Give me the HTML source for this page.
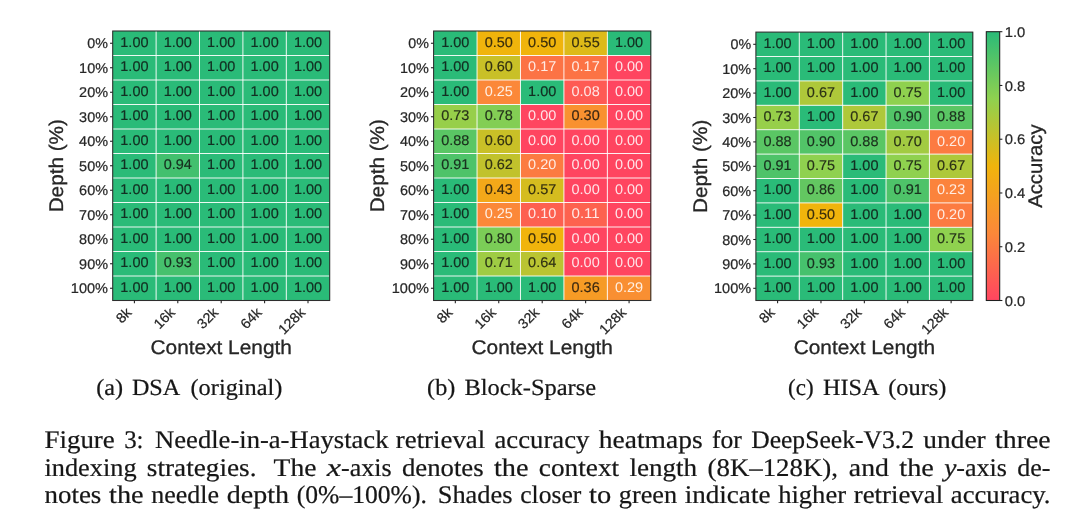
<!DOCTYPE html>
<html><head><meta charset="utf-8"><title>Figure 3</title>
<style>
html,body{margin:0;padding:0;background:#fff;}
body{width:1080px;height:525px;overflow:hidden;font-family:"Liberation Sans",sans-serif;}
svg{display:block;font-family:"Liberation Sans",sans-serif;will-change:transform;opacity:0.999;}
</style></head><body>
<svg width="1080" height="525" viewBox="0 0 1080 525" text-rendering="geometricPrecision">
<defs><linearGradient id="cb" x1="0" y1="0" x2="0" y2="1"><stop offset="0%" stop-color="#2abb78"/><stop offset="25%" stop-color="#8fd14f"/><stop offset="50%" stop-color="#f0b40c"/><stop offset="75%" stop-color="#fb8839"/><stop offset="100%" stop-color="#ff4560"/></linearGradient></defs>
<g shape-rendering="auto">
<rect x="112.70" y="31.00" width="43.70" height="24.80" fill="#2abb78"/>
<rect x="156.10" y="31.00" width="43.70" height="24.80" fill="#2abb78"/>
<rect x="199.50" y="31.00" width="43.70" height="24.80" fill="#2abb78"/>
<rect x="242.90" y="31.00" width="43.70" height="24.80" fill="#2abb78"/>
<rect x="286.30" y="31.00" width="43.70" height="24.80" fill="#2abb78"/>
<rect x="112.70" y="55.50" width="43.70" height="24.80" fill="#2abb78"/>
<rect x="156.10" y="55.50" width="43.70" height="24.80" fill="#2abb78"/>
<rect x="199.50" y="55.50" width="43.70" height="24.80" fill="#2abb78"/>
<rect x="242.90" y="55.50" width="43.70" height="24.80" fill="#2abb78"/>
<rect x="286.30" y="55.50" width="43.70" height="24.80" fill="#2abb78"/>
<rect x="112.70" y="80.00" width="43.70" height="24.80" fill="#2abb78"/>
<rect x="156.10" y="80.00" width="43.70" height="24.80" fill="#2abb78"/>
<rect x="199.50" y="80.00" width="43.70" height="24.80" fill="#2abb78"/>
<rect x="242.90" y="80.00" width="43.70" height="24.80" fill="#2abb78"/>
<rect x="286.30" y="80.00" width="43.70" height="24.80" fill="#2abb78"/>
<rect x="112.70" y="104.50" width="43.70" height="24.80" fill="#2abb78"/>
<rect x="156.10" y="104.50" width="43.70" height="24.80" fill="#2abb78"/>
<rect x="199.50" y="104.50" width="43.70" height="24.80" fill="#2abb78"/>
<rect x="242.90" y="104.50" width="43.70" height="24.80" fill="#2abb78"/>
<rect x="286.30" y="104.50" width="43.70" height="24.80" fill="#2abb78"/>
<rect x="112.70" y="129.00" width="43.70" height="24.80" fill="#2abb78"/>
<rect x="156.10" y="129.00" width="43.70" height="24.80" fill="#2abb78"/>
<rect x="199.50" y="129.00" width="43.70" height="24.80" fill="#2abb78"/>
<rect x="242.90" y="129.00" width="43.70" height="24.80" fill="#2abb78"/>
<rect x="286.30" y="129.00" width="43.70" height="24.80" fill="#2abb78"/>
<rect x="112.70" y="153.50" width="43.70" height="24.80" fill="#2abb78"/>
<rect x="156.10" y="153.50" width="43.70" height="24.80" fill="#42c06e"/>
<rect x="199.50" y="153.50" width="43.70" height="24.80" fill="#2abb78"/>
<rect x="242.90" y="153.50" width="43.70" height="24.80" fill="#2abb78"/>
<rect x="286.30" y="153.50" width="43.70" height="24.80" fill="#2abb78"/>
<rect x="112.70" y="178.00" width="43.70" height="24.80" fill="#2abb78"/>
<rect x="156.10" y="178.00" width="43.70" height="24.80" fill="#2abb78"/>
<rect x="199.50" y="178.00" width="43.70" height="24.80" fill="#2abb78"/>
<rect x="242.90" y="178.00" width="43.70" height="24.80" fill="#2abb78"/>
<rect x="286.30" y="178.00" width="43.70" height="24.80" fill="#2abb78"/>
<rect x="112.70" y="202.50" width="43.70" height="24.80" fill="#2abb78"/>
<rect x="156.10" y="202.50" width="43.70" height="24.80" fill="#2abb78"/>
<rect x="199.50" y="202.50" width="43.70" height="24.80" fill="#2abb78"/>
<rect x="242.90" y="202.50" width="43.70" height="24.80" fill="#2abb78"/>
<rect x="286.30" y="202.50" width="43.70" height="24.80" fill="#2abb78"/>
<rect x="112.70" y="227.00" width="43.70" height="24.80" fill="#2abb78"/>
<rect x="156.10" y="227.00" width="43.70" height="24.80" fill="#2abb78"/>
<rect x="199.50" y="227.00" width="43.70" height="24.80" fill="#2abb78"/>
<rect x="242.90" y="227.00" width="43.70" height="24.80" fill="#2abb78"/>
<rect x="286.30" y="227.00" width="43.70" height="24.80" fill="#2abb78"/>
<rect x="112.70" y="251.50" width="43.70" height="24.80" fill="#2abb78"/>
<rect x="156.10" y="251.50" width="43.70" height="24.80" fill="#46c16d"/>
<rect x="199.50" y="251.50" width="43.70" height="24.80" fill="#2abb78"/>
<rect x="242.90" y="251.50" width="43.70" height="24.80" fill="#2abb78"/>
<rect x="286.30" y="251.50" width="43.70" height="24.80" fill="#2abb78"/>
<rect x="112.70" y="276.00" width="43.70" height="24.80" fill="#2abb78"/>
<rect x="156.10" y="276.00" width="43.70" height="24.80" fill="#2abb78"/>
<rect x="199.50" y="276.00" width="43.70" height="24.80" fill="#2abb78"/>
<rect x="242.90" y="276.00" width="43.70" height="24.80" fill="#2abb78"/>
<rect x="286.30" y="276.00" width="43.70" height="24.80" fill="#2abb78"/>
<line x1="156.10" y1="31.0" x2="156.10" y2="300.5" stroke="#fff" stroke-opacity="0.9" stroke-width="1.0"/>
<line x1="199.50" y1="31.0" x2="199.50" y2="300.5" stroke="#fff" stroke-opacity="0.9" stroke-width="1.0"/>
<line x1="242.90" y1="31.0" x2="242.90" y2="300.5" stroke="#fff" stroke-opacity="0.9" stroke-width="1.0"/>
<line x1="286.30" y1="31.0" x2="286.30" y2="300.5" stroke="#fff" stroke-opacity="0.9" stroke-width="1.0"/>
<line x1="112.7" y1="55.50" x2="329.7" y2="55.50" stroke="#fff" stroke-opacity="0.9" stroke-width="1.0"/>
<line x1="112.7" y1="80.00" x2="329.7" y2="80.00" stroke="#fff" stroke-opacity="0.9" stroke-width="1.0"/>
<line x1="112.7" y1="104.50" x2="329.7" y2="104.50" stroke="#fff" stroke-opacity="0.9" stroke-width="1.0"/>
<line x1="112.7" y1="129.00" x2="329.7" y2="129.00" stroke="#fff" stroke-opacity="0.9" stroke-width="1.0"/>
<line x1="112.7" y1="153.50" x2="329.7" y2="153.50" stroke="#fff" stroke-opacity="0.9" stroke-width="1.0"/>
<line x1="112.7" y1="178.00" x2="329.7" y2="178.00" stroke="#fff" stroke-opacity="0.9" stroke-width="1.0"/>
<line x1="112.7" y1="202.50" x2="329.7" y2="202.50" stroke="#fff" stroke-opacity="0.9" stroke-width="1.0"/>
<line x1="112.7" y1="227.00" x2="329.7" y2="227.00" stroke="#fff" stroke-opacity="0.9" stroke-width="1.0"/>
<line x1="112.7" y1="251.50" x2="329.7" y2="251.50" stroke="#fff" stroke-opacity="0.9" stroke-width="1.0"/>
<line x1="112.7" y1="276.00" x2="329.7" y2="276.00" stroke="#fff" stroke-opacity="0.9" stroke-width="1.0"/>
<text x="134.40" y="46.95" font-size="14.13" fill="#0c0c0c" text-anchor="middle" textLength="28.20" lengthAdjust="spacingAndGlyphs" fill-opacity="0.8" stroke-opacity="0.8" stroke="#0c0c0c" stroke-width="0.16">1.00</text>
<text x="177.80" y="46.95" font-size="14.13" fill="#0c0c0c" text-anchor="middle" textLength="28.20" lengthAdjust="spacingAndGlyphs" fill-opacity="0.8" stroke-opacity="0.8" stroke="#0c0c0c" stroke-width="0.16">1.00</text>
<text x="221.20" y="46.95" font-size="14.13" fill="#0c0c0c" text-anchor="middle" textLength="28.20" lengthAdjust="spacingAndGlyphs" fill-opacity="0.8" stroke-opacity="0.8" stroke="#0c0c0c" stroke-width="0.16">1.00</text>
<text x="264.60" y="46.95" font-size="14.13" fill="#0c0c0c" text-anchor="middle" textLength="28.20" lengthAdjust="spacingAndGlyphs" fill-opacity="0.8" stroke-opacity="0.8" stroke="#0c0c0c" stroke-width="0.16">1.00</text>
<text x="308.00" y="46.95" font-size="14.13" fill="#0c0c0c" text-anchor="middle" textLength="28.20" lengthAdjust="spacingAndGlyphs" fill-opacity="0.8" stroke-opacity="0.8" stroke="#0c0c0c" stroke-width="0.16">1.00</text>
<text x="134.40" y="71.45" font-size="14.13" fill="#0c0c0c" text-anchor="middle" textLength="28.20" lengthAdjust="spacingAndGlyphs" fill-opacity="0.8" stroke-opacity="0.8" stroke="#0c0c0c" stroke-width="0.16">1.00</text>
<text x="177.80" y="71.45" font-size="14.13" fill="#0c0c0c" text-anchor="middle" textLength="28.20" lengthAdjust="spacingAndGlyphs" fill-opacity="0.8" stroke-opacity="0.8" stroke="#0c0c0c" stroke-width="0.16">1.00</text>
<text x="221.20" y="71.45" font-size="14.13" fill="#0c0c0c" text-anchor="middle" textLength="28.20" lengthAdjust="spacingAndGlyphs" fill-opacity="0.8" stroke-opacity="0.8" stroke="#0c0c0c" stroke-width="0.16">1.00</text>
<text x="264.60" y="71.45" font-size="14.13" fill="#0c0c0c" text-anchor="middle" textLength="28.20" lengthAdjust="spacingAndGlyphs" fill-opacity="0.8" stroke-opacity="0.8" stroke="#0c0c0c" stroke-width="0.16">1.00</text>
<text x="308.00" y="71.45" font-size="14.13" fill="#0c0c0c" text-anchor="middle" textLength="28.20" lengthAdjust="spacingAndGlyphs" fill-opacity="0.8" stroke-opacity="0.8" stroke="#0c0c0c" stroke-width="0.16">1.00</text>
<text x="134.40" y="95.95" font-size="14.13" fill="#0c0c0c" text-anchor="middle" textLength="28.20" lengthAdjust="spacingAndGlyphs" fill-opacity="0.8" stroke-opacity="0.8" stroke="#0c0c0c" stroke-width="0.16">1.00</text>
<text x="177.80" y="95.95" font-size="14.13" fill="#0c0c0c" text-anchor="middle" textLength="28.20" lengthAdjust="spacingAndGlyphs" fill-opacity="0.8" stroke-opacity="0.8" stroke="#0c0c0c" stroke-width="0.16">1.00</text>
<text x="221.20" y="95.95" font-size="14.13" fill="#0c0c0c" text-anchor="middle" textLength="28.20" lengthAdjust="spacingAndGlyphs" fill-opacity="0.8" stroke-opacity="0.8" stroke="#0c0c0c" stroke-width="0.16">1.00</text>
<text x="264.60" y="95.95" font-size="14.13" fill="#0c0c0c" text-anchor="middle" textLength="28.20" lengthAdjust="spacingAndGlyphs" fill-opacity="0.8" stroke-opacity="0.8" stroke="#0c0c0c" stroke-width="0.16">1.00</text>
<text x="308.00" y="95.95" font-size="14.13" fill="#0c0c0c" text-anchor="middle" textLength="28.20" lengthAdjust="spacingAndGlyphs" fill-opacity="0.8" stroke-opacity="0.8" stroke="#0c0c0c" stroke-width="0.16">1.00</text>
<text x="134.40" y="120.45" font-size="14.13" fill="#0c0c0c" text-anchor="middle" textLength="28.20" lengthAdjust="spacingAndGlyphs" fill-opacity="0.8" stroke-opacity="0.8" stroke="#0c0c0c" stroke-width="0.16">1.00</text>
<text x="177.80" y="120.45" font-size="14.13" fill="#0c0c0c" text-anchor="middle" textLength="28.20" lengthAdjust="spacingAndGlyphs" fill-opacity="0.8" stroke-opacity="0.8" stroke="#0c0c0c" stroke-width="0.16">1.00</text>
<text x="221.20" y="120.45" font-size="14.13" fill="#0c0c0c" text-anchor="middle" textLength="28.20" lengthAdjust="spacingAndGlyphs" fill-opacity="0.8" stroke-opacity="0.8" stroke="#0c0c0c" stroke-width="0.16">1.00</text>
<text x="264.60" y="120.45" font-size="14.13" fill="#0c0c0c" text-anchor="middle" textLength="28.20" lengthAdjust="spacingAndGlyphs" fill-opacity="0.8" stroke-opacity="0.8" stroke="#0c0c0c" stroke-width="0.16">1.00</text>
<text x="308.00" y="120.45" font-size="14.13" fill="#0c0c0c" text-anchor="middle" textLength="28.20" lengthAdjust="spacingAndGlyphs" fill-opacity="0.8" stroke-opacity="0.8" stroke="#0c0c0c" stroke-width="0.16">1.00</text>
<text x="134.40" y="144.95" font-size="14.13" fill="#0c0c0c" text-anchor="middle" textLength="28.20" lengthAdjust="spacingAndGlyphs" fill-opacity="0.8" stroke-opacity="0.8" stroke="#0c0c0c" stroke-width="0.16">1.00</text>
<text x="177.80" y="144.95" font-size="14.13" fill="#0c0c0c" text-anchor="middle" textLength="28.20" lengthAdjust="spacingAndGlyphs" fill-opacity="0.8" stroke-opacity="0.8" stroke="#0c0c0c" stroke-width="0.16">1.00</text>
<text x="221.20" y="144.95" font-size="14.13" fill="#0c0c0c" text-anchor="middle" textLength="28.20" lengthAdjust="spacingAndGlyphs" fill-opacity="0.8" stroke-opacity="0.8" stroke="#0c0c0c" stroke-width="0.16">1.00</text>
<text x="264.60" y="144.95" font-size="14.13" fill="#0c0c0c" text-anchor="middle" textLength="28.20" lengthAdjust="spacingAndGlyphs" fill-opacity="0.8" stroke-opacity="0.8" stroke="#0c0c0c" stroke-width="0.16">1.00</text>
<text x="308.00" y="144.95" font-size="14.13" fill="#0c0c0c" text-anchor="middle" textLength="28.20" lengthAdjust="spacingAndGlyphs" fill-opacity="0.8" stroke-opacity="0.8" stroke="#0c0c0c" stroke-width="0.16">1.00</text>
<text x="134.40" y="169.45" font-size="14.13" fill="#0c0c0c" text-anchor="middle" textLength="28.20" lengthAdjust="spacingAndGlyphs" fill-opacity="0.8" stroke-opacity="0.8" stroke="#0c0c0c" stroke-width="0.16">1.00</text>
<text x="177.80" y="169.45" font-size="14.13" fill="#0c0c0c" text-anchor="middle" textLength="28.20" lengthAdjust="spacingAndGlyphs" fill-opacity="0.8" stroke-opacity="0.8" stroke="#0c0c0c" stroke-width="0.16">0.94</text>
<text x="221.20" y="169.45" font-size="14.13" fill="#0c0c0c" text-anchor="middle" textLength="28.20" lengthAdjust="spacingAndGlyphs" fill-opacity="0.8" stroke-opacity="0.8" stroke="#0c0c0c" stroke-width="0.16">1.00</text>
<text x="264.60" y="169.45" font-size="14.13" fill="#0c0c0c" text-anchor="middle" textLength="28.20" lengthAdjust="spacingAndGlyphs" fill-opacity="0.8" stroke-opacity="0.8" stroke="#0c0c0c" stroke-width="0.16">1.00</text>
<text x="308.00" y="169.45" font-size="14.13" fill="#0c0c0c" text-anchor="middle" textLength="28.20" lengthAdjust="spacingAndGlyphs" fill-opacity="0.8" stroke-opacity="0.8" stroke="#0c0c0c" stroke-width="0.16">1.00</text>
<text x="134.40" y="193.95" font-size="14.13" fill="#0c0c0c" text-anchor="middle" textLength="28.20" lengthAdjust="spacingAndGlyphs" fill-opacity="0.8" stroke-opacity="0.8" stroke="#0c0c0c" stroke-width="0.16">1.00</text>
<text x="177.80" y="193.95" font-size="14.13" fill="#0c0c0c" text-anchor="middle" textLength="28.20" lengthAdjust="spacingAndGlyphs" fill-opacity="0.8" stroke-opacity="0.8" stroke="#0c0c0c" stroke-width="0.16">1.00</text>
<text x="221.20" y="193.95" font-size="14.13" fill="#0c0c0c" text-anchor="middle" textLength="28.20" lengthAdjust="spacingAndGlyphs" fill-opacity="0.8" stroke-opacity="0.8" stroke="#0c0c0c" stroke-width="0.16">1.00</text>
<text x="264.60" y="193.95" font-size="14.13" fill="#0c0c0c" text-anchor="middle" textLength="28.20" lengthAdjust="spacingAndGlyphs" fill-opacity="0.8" stroke-opacity="0.8" stroke="#0c0c0c" stroke-width="0.16">1.00</text>
<text x="308.00" y="193.95" font-size="14.13" fill="#0c0c0c" text-anchor="middle" textLength="28.20" lengthAdjust="spacingAndGlyphs" fill-opacity="0.8" stroke-opacity="0.8" stroke="#0c0c0c" stroke-width="0.16">1.00</text>
<text x="134.40" y="218.45" font-size="14.13" fill="#0c0c0c" text-anchor="middle" textLength="28.20" lengthAdjust="spacingAndGlyphs" fill-opacity="0.8" stroke-opacity="0.8" stroke="#0c0c0c" stroke-width="0.16">1.00</text>
<text x="177.80" y="218.45" font-size="14.13" fill="#0c0c0c" text-anchor="middle" textLength="28.20" lengthAdjust="spacingAndGlyphs" fill-opacity="0.8" stroke-opacity="0.8" stroke="#0c0c0c" stroke-width="0.16">1.00</text>
<text x="221.20" y="218.45" font-size="14.13" fill="#0c0c0c" text-anchor="middle" textLength="28.20" lengthAdjust="spacingAndGlyphs" fill-opacity="0.8" stroke-opacity="0.8" stroke="#0c0c0c" stroke-width="0.16">1.00</text>
<text x="264.60" y="218.45" font-size="14.13" fill="#0c0c0c" text-anchor="middle" textLength="28.20" lengthAdjust="spacingAndGlyphs" fill-opacity="0.8" stroke-opacity="0.8" stroke="#0c0c0c" stroke-width="0.16">1.00</text>
<text x="308.00" y="218.45" font-size="14.13" fill="#0c0c0c" text-anchor="middle" textLength="28.20" lengthAdjust="spacingAndGlyphs" fill-opacity="0.8" stroke-opacity="0.8" stroke="#0c0c0c" stroke-width="0.16">1.00</text>
<text x="134.40" y="242.95" font-size="14.13" fill="#0c0c0c" text-anchor="middle" textLength="28.20" lengthAdjust="spacingAndGlyphs" fill-opacity="0.8" stroke-opacity="0.8" stroke="#0c0c0c" stroke-width="0.16">1.00</text>
<text x="177.80" y="242.95" font-size="14.13" fill="#0c0c0c" text-anchor="middle" textLength="28.20" lengthAdjust="spacingAndGlyphs" fill-opacity="0.8" stroke-opacity="0.8" stroke="#0c0c0c" stroke-width="0.16">1.00</text>
<text x="221.20" y="242.95" font-size="14.13" fill="#0c0c0c" text-anchor="middle" textLength="28.20" lengthAdjust="spacingAndGlyphs" fill-opacity="0.8" stroke-opacity="0.8" stroke="#0c0c0c" stroke-width="0.16">1.00</text>
<text x="264.60" y="242.95" font-size="14.13" fill="#0c0c0c" text-anchor="middle" textLength="28.20" lengthAdjust="spacingAndGlyphs" fill-opacity="0.8" stroke-opacity="0.8" stroke="#0c0c0c" stroke-width="0.16">1.00</text>
<text x="308.00" y="242.95" font-size="14.13" fill="#0c0c0c" text-anchor="middle" textLength="28.20" lengthAdjust="spacingAndGlyphs" fill-opacity="0.8" stroke-opacity="0.8" stroke="#0c0c0c" stroke-width="0.16">1.00</text>
<text x="134.40" y="267.45" font-size="14.13" fill="#0c0c0c" text-anchor="middle" textLength="28.20" lengthAdjust="spacingAndGlyphs" fill-opacity="0.8" stroke-opacity="0.8" stroke="#0c0c0c" stroke-width="0.16">1.00</text>
<text x="177.80" y="267.45" font-size="14.13" fill="#0c0c0c" text-anchor="middle" textLength="28.20" lengthAdjust="spacingAndGlyphs" fill-opacity="0.8" stroke-opacity="0.8" stroke="#0c0c0c" stroke-width="0.16">0.93</text>
<text x="221.20" y="267.45" font-size="14.13" fill="#0c0c0c" text-anchor="middle" textLength="28.20" lengthAdjust="spacingAndGlyphs" fill-opacity="0.8" stroke-opacity="0.8" stroke="#0c0c0c" stroke-width="0.16">1.00</text>
<text x="264.60" y="267.45" font-size="14.13" fill="#0c0c0c" text-anchor="middle" textLength="28.20" lengthAdjust="spacingAndGlyphs" fill-opacity="0.8" stroke-opacity="0.8" stroke="#0c0c0c" stroke-width="0.16">1.00</text>
<text x="308.00" y="267.45" font-size="14.13" fill="#0c0c0c" text-anchor="middle" textLength="28.20" lengthAdjust="spacingAndGlyphs" fill-opacity="0.8" stroke-opacity="0.8" stroke="#0c0c0c" stroke-width="0.16">1.00</text>
<text x="134.40" y="291.95" font-size="14.13" fill="#0c0c0c" text-anchor="middle" textLength="28.20" lengthAdjust="spacingAndGlyphs" fill-opacity="0.8" stroke-opacity="0.8" stroke="#0c0c0c" stroke-width="0.16">1.00</text>
<text x="177.80" y="291.95" font-size="14.13" fill="#0c0c0c" text-anchor="middle" textLength="28.20" lengthAdjust="spacingAndGlyphs" fill-opacity="0.8" stroke-opacity="0.8" stroke="#0c0c0c" stroke-width="0.16">1.00</text>
<text x="221.20" y="291.95" font-size="14.13" fill="#0c0c0c" text-anchor="middle" textLength="28.20" lengthAdjust="spacingAndGlyphs" fill-opacity="0.8" stroke-opacity="0.8" stroke="#0c0c0c" stroke-width="0.16">1.00</text>
<text x="264.60" y="291.95" font-size="14.13" fill="#0c0c0c" text-anchor="middle" textLength="28.20" lengthAdjust="spacingAndGlyphs" fill-opacity="0.8" stroke-opacity="0.8" stroke="#0c0c0c" stroke-width="0.16">1.00</text>
<text x="308.00" y="291.95" font-size="14.13" fill="#0c0c0c" text-anchor="middle" textLength="28.20" lengthAdjust="spacingAndGlyphs" fill-opacity="0.8" stroke-opacity="0.8" stroke="#0c0c0c" stroke-width="0.16">1.00</text>
<rect x="112.7" y="31.0" width="217.0" height="269.5" fill="none" stroke="#2e2e2e" stroke-width="1.07"/>
<line x1="110.03" y1="43.25" x2="112.70" y2="43.25" stroke="#1f1f1f" stroke-width="1.07"/>
<text x="108.00" y="48.35" font-size="14.13" fill="#262626" text-anchor="end" textLength="20.62" lengthAdjust="spacingAndGlyphs"  stroke="#262626" stroke-width="0.22">0%</text>
<line x1="110.03" y1="67.75" x2="112.70" y2="67.75" stroke="#1f1f1f" stroke-width="1.07"/>
<text x="108.00" y="72.85" font-size="14.13" fill="#262626" text-anchor="end" textLength="28.89" lengthAdjust="spacingAndGlyphs"  stroke="#262626" stroke-width="0.22">10%</text>
<line x1="110.03" y1="92.25" x2="112.70" y2="92.25" stroke="#1f1f1f" stroke-width="1.07"/>
<text x="108.00" y="97.35" font-size="14.13" fill="#262626" text-anchor="end" textLength="28.89" lengthAdjust="spacingAndGlyphs"  stroke="#262626" stroke-width="0.22">20%</text>
<line x1="110.03" y1="116.75" x2="112.70" y2="116.75" stroke="#1f1f1f" stroke-width="1.07"/>
<text x="108.00" y="121.85" font-size="14.13" fill="#262626" text-anchor="end" textLength="28.89" lengthAdjust="spacingAndGlyphs"  stroke="#262626" stroke-width="0.22">30%</text>
<line x1="110.03" y1="141.25" x2="112.70" y2="141.25" stroke="#1f1f1f" stroke-width="1.07"/>
<text x="108.00" y="146.35" font-size="14.13" fill="#262626" text-anchor="end" textLength="28.89" lengthAdjust="spacingAndGlyphs"  stroke="#262626" stroke-width="0.22">40%</text>
<line x1="110.03" y1="165.75" x2="112.70" y2="165.75" stroke="#1f1f1f" stroke-width="1.07"/>
<text x="108.00" y="170.85" font-size="14.13" fill="#262626" text-anchor="end" textLength="28.89" lengthAdjust="spacingAndGlyphs"  stroke="#262626" stroke-width="0.22">50%</text>
<line x1="110.03" y1="190.25" x2="112.70" y2="190.25" stroke="#1f1f1f" stroke-width="1.07"/>
<text x="108.00" y="195.35" font-size="14.13" fill="#262626" text-anchor="end" textLength="28.89" lengthAdjust="spacingAndGlyphs"  stroke="#262626" stroke-width="0.22">60%</text>
<line x1="110.03" y1="214.75" x2="112.70" y2="214.75" stroke="#1f1f1f" stroke-width="1.07"/>
<text x="108.00" y="219.85" font-size="14.13" fill="#262626" text-anchor="end" textLength="28.89" lengthAdjust="spacingAndGlyphs"  stroke="#262626" stroke-width="0.22">70%</text>
<line x1="110.03" y1="239.25" x2="112.70" y2="239.25" stroke="#1f1f1f" stroke-width="1.07"/>
<text x="108.00" y="244.35" font-size="14.13" fill="#262626" text-anchor="end" textLength="28.89" lengthAdjust="spacingAndGlyphs"  stroke="#262626" stroke-width="0.22">80%</text>
<line x1="110.03" y1="263.75" x2="112.70" y2="263.75" stroke="#1f1f1f" stroke-width="1.07"/>
<text x="108.00" y="268.85" font-size="14.13" fill="#262626" text-anchor="end" textLength="28.89" lengthAdjust="spacingAndGlyphs"  stroke="#262626" stroke-width="0.22">90%</text>
<line x1="110.03" y1="288.25" x2="112.70" y2="288.25" stroke="#1f1f1f" stroke-width="1.07"/>
<text x="108.00" y="293.35" font-size="14.13" fill="#262626" text-anchor="end" textLength="37.16" lengthAdjust="spacingAndGlyphs"  stroke="#262626" stroke-width="0.22">100%</text>
<line x1="134.40" y1="300.50" x2="134.40" y2="303.17" stroke="#1f1f1f" stroke-width="1.07"/>
<text transform="translate(132.40,313.30) rotate(-45)" font-size="14.13" fill="#262626" stroke="#262626" stroke-width="0.22" text-anchor="end" textLength="15.23" lengthAdjust="spacingAndGlyphs">8k</text>
<line x1="177.80" y1="300.50" x2="177.80" y2="303.17" stroke="#1f1f1f" stroke-width="1.07"/>
<text transform="translate(175.80,313.30) rotate(-45)" font-size="14.13" fill="#262626" stroke="#262626" stroke-width="0.22" text-anchor="end" textLength="23.20" lengthAdjust="spacingAndGlyphs">16k</text>
<line x1="221.20" y1="300.50" x2="221.20" y2="303.17" stroke="#1f1f1f" stroke-width="1.07"/>
<text transform="translate(219.20,313.30) rotate(-45)" font-size="14.13" fill="#262626" stroke="#262626" stroke-width="0.22" text-anchor="end" textLength="23.20" lengthAdjust="spacingAndGlyphs">32k</text>
<line x1="264.60" y1="300.50" x2="264.60" y2="303.17" stroke="#1f1f1f" stroke-width="1.07"/>
<text transform="translate(262.60,313.30) rotate(-45)" font-size="14.13" fill="#262626" stroke="#262626" stroke-width="0.22" text-anchor="end" textLength="23.20" lengthAdjust="spacingAndGlyphs">64k</text>
<line x1="308.00" y1="300.50" x2="308.00" y2="303.17" stroke="#1f1f1f" stroke-width="1.07"/>
<text transform="translate(306.00,313.30) rotate(-45)" font-size="14.13" fill="#262626" stroke="#262626" stroke-width="0.22" text-anchor="end" textLength="31.17" lengthAdjust="spacingAndGlyphs">128k</text>
<text x="221.20" y="354.00" font-size="19.79" fill="#262626" text-anchor="middle" textLength="141.32" lengthAdjust="spacingAndGlyphs"  stroke="#262626" stroke-width="0.3">Context Length</text>
<text transform="translate(63.40,165.75) rotate(-90)" font-size="19.79" fill="#262626" stroke="#262626" stroke-width="0.3" text-anchor="middle" textLength="93.21" lengthAdjust="spacingAndGlyphs">Depth (%)</text>
</g>
<g shape-rendering="auto">
<rect x="433.60" y="31.00" width="43.74" height="24.80" fill="#2abb78"/>
<rect x="477.04" y="31.00" width="43.74" height="24.80" fill="#f0b40c"/>
<rect x="520.48" y="31.00" width="43.74" height="24.80" fill="#f0b40c"/>
<rect x="563.92" y="31.00" width="43.74" height="24.80" fill="#ddba19"/>
<rect x="607.36" y="31.00" width="43.74" height="24.80" fill="#2abb78"/>
<rect x="433.60" y="55.50" width="43.74" height="24.80" fill="#2abb78"/>
<rect x="477.04" y="55.50" width="43.74" height="24.80" fill="#c9c027"/>
<rect x="520.48" y="55.50" width="43.74" height="24.80" fill="#fc7345"/>
<rect x="563.92" y="55.50" width="43.74" height="24.80" fill="#fc7345"/>
<rect x="607.36" y="55.50" width="43.74" height="24.80" fill="#ff4560"/>
<rect x="433.60" y="80.00" width="43.74" height="24.80" fill="#2abb78"/>
<rect x="477.04" y="80.00" width="43.74" height="24.80" fill="#fb8839"/>
<rect x="520.48" y="80.00" width="43.74" height="24.80" fill="#2abb78"/>
<rect x="563.92" y="80.00" width="43.74" height="24.80" fill="#fe5a54"/>
<rect x="607.36" y="80.00" width="43.74" height="24.80" fill="#ff4560"/>
<rect x="433.60" y="104.50" width="43.74" height="24.80" fill="#97cf4a"/>
<rect x="477.04" y="104.50" width="43.74" height="24.80" fill="#83ce54"/>
<rect x="520.48" y="104.50" width="43.74" height="24.80" fill="#ff4560"/>
<rect x="563.92" y="104.50" width="43.74" height="24.80" fill="#f99130"/>
<rect x="607.36" y="104.50" width="43.74" height="24.80" fill="#ff4560"/>
<rect x="433.60" y="129.00" width="43.74" height="24.80" fill="#5ac664"/>
<rect x="477.04" y="129.00" width="43.74" height="24.80" fill="#c9c027"/>
<rect x="520.48" y="129.00" width="43.74" height="24.80" fill="#ff4560"/>
<rect x="563.92" y="129.00" width="43.74" height="24.80" fill="#ff4560"/>
<rect x="607.36" y="129.00" width="43.74" height="24.80" fill="#ff4560"/>
<rect x="433.60" y="153.50" width="43.74" height="24.80" fill="#4ec369"/>
<rect x="477.04" y="153.50" width="43.74" height="24.80" fill="#c1c22c"/>
<rect x="520.48" y="153.50" width="43.74" height="24.80" fill="#fc7b41"/>
<rect x="563.92" y="153.50" width="43.74" height="24.80" fill="#ff4560"/>
<rect x="607.36" y="153.50" width="43.74" height="24.80" fill="#ff4560"/>
<rect x="433.60" y="178.00" width="43.74" height="24.80" fill="#2abb78"/>
<rect x="477.04" y="178.00" width="43.74" height="24.80" fill="#f3a819"/>
<rect x="520.48" y="178.00" width="43.74" height="24.80" fill="#d5bc1f"/>
<rect x="563.92" y="178.00" width="43.74" height="24.80" fill="#ff4560"/>
<rect x="607.36" y="178.00" width="43.74" height="24.80" fill="#ff4560"/>
<rect x="433.60" y="202.50" width="43.74" height="24.80" fill="#2abb78"/>
<rect x="477.04" y="202.50" width="43.74" height="24.80" fill="#fb8839"/>
<rect x="520.48" y="202.50" width="43.74" height="24.80" fill="#fd6050"/>
<rect x="563.92" y="202.50" width="43.74" height="24.80" fill="#fd624f"/>
<rect x="607.36" y="202.50" width="43.74" height="24.80" fill="#ff4560"/>
<rect x="433.60" y="227.00" width="43.74" height="24.80" fill="#2abb78"/>
<rect x="477.04" y="227.00" width="43.74" height="24.80" fill="#7bcd57"/>
<rect x="520.48" y="227.00" width="43.74" height="24.80" fill="#f0b40c"/>
<rect x="563.92" y="227.00" width="43.74" height="24.80" fill="#ff4560"/>
<rect x="607.36" y="227.00" width="43.74" height="24.80" fill="#ff4560"/>
<rect x="433.60" y="251.50" width="43.74" height="24.80" fill="#2abb78"/>
<rect x="477.04" y="251.50" width="43.74" height="24.80" fill="#9fcc44"/>
<rect x="520.48" y="251.50" width="43.74" height="24.80" fill="#bac432"/>
<rect x="563.92" y="251.50" width="43.74" height="24.80" fill="#ff4560"/>
<rect x="607.36" y="251.50" width="43.74" height="24.80" fill="#ff4560"/>
<rect x="433.60" y="276.00" width="43.74" height="24.80" fill="#2abb78"/>
<rect x="477.04" y="276.00" width="43.74" height="24.80" fill="#2abb78"/>
<rect x="520.48" y="276.00" width="43.74" height="24.80" fill="#2abb78"/>
<rect x="563.92" y="276.00" width="43.74" height="24.80" fill="#f69b25"/>
<rect x="607.36" y="276.00" width="43.74" height="24.80" fill="#f98f32"/>
<line x1="477.04" y1="31.0" x2="477.04" y2="300.5" stroke="#fff" stroke-opacity="0.9" stroke-width="1.0"/>
<line x1="520.48" y1="31.0" x2="520.48" y2="300.5" stroke="#fff" stroke-opacity="0.9" stroke-width="1.0"/>
<line x1="563.92" y1="31.0" x2="563.92" y2="300.5" stroke="#fff" stroke-opacity="0.9" stroke-width="1.0"/>
<line x1="607.36" y1="31.0" x2="607.36" y2="300.5" stroke="#fff" stroke-opacity="0.9" stroke-width="1.0"/>
<line x1="433.6" y1="55.50" x2="650.8" y2="55.50" stroke="#fff" stroke-opacity="0.9" stroke-width="1.0"/>
<line x1="433.6" y1="80.00" x2="650.8" y2="80.00" stroke="#fff" stroke-opacity="0.9" stroke-width="1.0"/>
<line x1="433.6" y1="104.50" x2="650.8" y2="104.50" stroke="#fff" stroke-opacity="0.9" stroke-width="1.0"/>
<line x1="433.6" y1="129.00" x2="650.8" y2="129.00" stroke="#fff" stroke-opacity="0.9" stroke-width="1.0"/>
<line x1="433.6" y1="153.50" x2="650.8" y2="153.50" stroke="#fff" stroke-opacity="0.9" stroke-width="1.0"/>
<line x1="433.6" y1="178.00" x2="650.8" y2="178.00" stroke="#fff" stroke-opacity="0.9" stroke-width="1.0"/>
<line x1="433.6" y1="202.50" x2="650.8" y2="202.50" stroke="#fff" stroke-opacity="0.9" stroke-width="1.0"/>
<line x1="433.6" y1="227.00" x2="650.8" y2="227.00" stroke="#fff" stroke-opacity="0.9" stroke-width="1.0"/>
<line x1="433.6" y1="251.50" x2="650.8" y2="251.50" stroke="#fff" stroke-opacity="0.9" stroke-width="1.0"/>
<line x1="433.6" y1="276.00" x2="650.8" y2="276.00" stroke="#fff" stroke-opacity="0.9" stroke-width="1.0"/>
<text x="455.32" y="46.95" font-size="14.13" fill="#0c0c0c" text-anchor="middle" textLength="28.20" lengthAdjust="spacingAndGlyphs" fill-opacity="0.8" stroke-opacity="0.8" stroke="#0c0c0c" stroke-width="0.16">1.00</text>
<text x="498.76" y="46.95" font-size="14.13" fill="#0c0c0c" text-anchor="middle" textLength="28.20" lengthAdjust="spacingAndGlyphs" fill-opacity="0.8" stroke-opacity="0.8" stroke="#0c0c0c" stroke-width="0.16">0.50</text>
<text x="542.20" y="46.95" font-size="14.13" fill="#0c0c0c" text-anchor="middle" textLength="28.20" lengthAdjust="spacingAndGlyphs" fill-opacity="0.8" stroke-opacity="0.8" stroke="#0c0c0c" stroke-width="0.16">0.50</text>
<text x="585.64" y="46.95" font-size="14.13" fill="#0c0c0c" text-anchor="middle" textLength="28.20" lengthAdjust="spacingAndGlyphs" fill-opacity="0.8" stroke-opacity="0.8" stroke="#0c0c0c" stroke-width="0.16">0.55</text>
<text x="629.08" y="46.95" font-size="14.13" fill="#0c0c0c" text-anchor="middle" textLength="28.20" lengthAdjust="spacingAndGlyphs" fill-opacity="0.8" stroke-opacity="0.8" stroke="#0c0c0c" stroke-width="0.16">1.00</text>
<text x="455.32" y="71.45" font-size="14.13" fill="#0c0c0c" text-anchor="middle" textLength="28.20" lengthAdjust="spacingAndGlyphs" fill-opacity="0.8" stroke-opacity="0.8" stroke="#0c0c0c" stroke-width="0.16">1.00</text>
<text x="498.76" y="71.45" font-size="14.13" fill="#0c0c0c" text-anchor="middle" textLength="28.20" lengthAdjust="spacingAndGlyphs" fill-opacity="0.8" stroke-opacity="0.8" stroke="#0c0c0c" stroke-width="0.16">0.60</text>
<text x="542.20" y="71.45" font-size="14.13" fill="#ffffff" text-anchor="middle" textLength="28.20" lengthAdjust="spacingAndGlyphs" fill-opacity="0.86" stroke-opacity="0" stroke="#ffffff" stroke-width="0.16">0.17</text>
<text x="585.64" y="71.45" font-size="14.13" fill="#ffffff" text-anchor="middle" textLength="28.20" lengthAdjust="spacingAndGlyphs" fill-opacity="0.86" stroke-opacity="0" stroke="#ffffff" stroke-width="0.16">0.17</text>
<text x="629.08" y="71.45" font-size="14.13" fill="#ffffff" text-anchor="middle" textLength="28.20" lengthAdjust="spacingAndGlyphs" fill-opacity="0.86" stroke-opacity="0" stroke="#ffffff" stroke-width="0.16">0.00</text>
<text x="455.32" y="95.95" font-size="14.13" fill="#0c0c0c" text-anchor="middle" textLength="28.20" lengthAdjust="spacingAndGlyphs" fill-opacity="0.8" stroke-opacity="0.8" stroke="#0c0c0c" stroke-width="0.16">1.00</text>
<text x="498.76" y="95.95" font-size="14.13" fill="#ffffff" text-anchor="middle" textLength="28.20" lengthAdjust="spacingAndGlyphs" fill-opacity="0.86" stroke-opacity="0" stroke="#ffffff" stroke-width="0.16">0.25</text>
<text x="542.20" y="95.95" font-size="14.13" fill="#0c0c0c" text-anchor="middle" textLength="28.20" lengthAdjust="spacingAndGlyphs" fill-opacity="0.8" stroke-opacity="0.8" stroke="#0c0c0c" stroke-width="0.16">1.00</text>
<text x="585.64" y="95.95" font-size="14.13" fill="#ffffff" text-anchor="middle" textLength="28.20" lengthAdjust="spacingAndGlyphs" fill-opacity="0.86" stroke-opacity="0" stroke="#ffffff" stroke-width="0.16">0.08</text>
<text x="629.08" y="95.95" font-size="14.13" fill="#ffffff" text-anchor="middle" textLength="28.20" lengthAdjust="spacingAndGlyphs" fill-opacity="0.86" stroke-opacity="0" stroke="#ffffff" stroke-width="0.16">0.00</text>
<text x="455.32" y="120.45" font-size="14.13" fill="#0c0c0c" text-anchor="middle" textLength="28.20" lengthAdjust="spacingAndGlyphs" fill-opacity="0.8" stroke-opacity="0.8" stroke="#0c0c0c" stroke-width="0.16">0.73</text>
<text x="498.76" y="120.45" font-size="14.13" fill="#0c0c0c" text-anchor="middle" textLength="28.20" lengthAdjust="spacingAndGlyphs" fill-opacity="0.8" stroke-opacity="0.8" stroke="#0c0c0c" stroke-width="0.16">0.78</text>
<text x="542.20" y="120.45" font-size="14.13" fill="#ffffff" text-anchor="middle" textLength="28.20" lengthAdjust="spacingAndGlyphs" fill-opacity="0.86" stroke-opacity="0" stroke="#ffffff" stroke-width="0.16">0.00</text>
<text x="585.64" y="120.45" font-size="14.13" fill="#0c0c0c" text-anchor="middle" textLength="28.20" lengthAdjust="spacingAndGlyphs" fill-opacity="0.8" stroke-opacity="0.8" stroke="#0c0c0c" stroke-width="0.16">0.30</text>
<text x="629.08" y="120.45" font-size="14.13" fill="#ffffff" text-anchor="middle" textLength="28.20" lengthAdjust="spacingAndGlyphs" fill-opacity="0.86" stroke-opacity="0" stroke="#ffffff" stroke-width="0.16">0.00</text>
<text x="455.32" y="144.95" font-size="14.13" fill="#0c0c0c" text-anchor="middle" textLength="28.20" lengthAdjust="spacingAndGlyphs" fill-opacity="0.8" stroke-opacity="0.8" stroke="#0c0c0c" stroke-width="0.16">0.88</text>
<text x="498.76" y="144.95" font-size="14.13" fill="#0c0c0c" text-anchor="middle" textLength="28.20" lengthAdjust="spacingAndGlyphs" fill-opacity="0.8" stroke-opacity="0.8" stroke="#0c0c0c" stroke-width="0.16">0.60</text>
<text x="542.20" y="144.95" font-size="14.13" fill="#ffffff" text-anchor="middle" textLength="28.20" lengthAdjust="spacingAndGlyphs" fill-opacity="0.86" stroke-opacity="0" stroke="#ffffff" stroke-width="0.16">0.00</text>
<text x="585.64" y="144.95" font-size="14.13" fill="#ffffff" text-anchor="middle" textLength="28.20" lengthAdjust="spacingAndGlyphs" fill-opacity="0.86" stroke-opacity="0" stroke="#ffffff" stroke-width="0.16">0.00</text>
<text x="629.08" y="144.95" font-size="14.13" fill="#ffffff" text-anchor="middle" textLength="28.20" lengthAdjust="spacingAndGlyphs" fill-opacity="0.86" stroke-opacity="0" stroke="#ffffff" stroke-width="0.16">0.00</text>
<text x="455.32" y="169.45" font-size="14.13" fill="#0c0c0c" text-anchor="middle" textLength="28.20" lengthAdjust="spacingAndGlyphs" fill-opacity="0.8" stroke-opacity="0.8" stroke="#0c0c0c" stroke-width="0.16">0.91</text>
<text x="498.76" y="169.45" font-size="14.13" fill="#0c0c0c" text-anchor="middle" textLength="28.20" lengthAdjust="spacingAndGlyphs" fill-opacity="0.8" stroke-opacity="0.8" stroke="#0c0c0c" stroke-width="0.16">0.62</text>
<text x="542.20" y="169.45" font-size="14.13" fill="#ffffff" text-anchor="middle" textLength="28.20" lengthAdjust="spacingAndGlyphs" fill-opacity="0.86" stroke-opacity="0" stroke="#ffffff" stroke-width="0.16">0.20</text>
<text x="585.64" y="169.45" font-size="14.13" fill="#ffffff" text-anchor="middle" textLength="28.20" lengthAdjust="spacingAndGlyphs" fill-opacity="0.86" stroke-opacity="0" stroke="#ffffff" stroke-width="0.16">0.00</text>
<text x="629.08" y="169.45" font-size="14.13" fill="#ffffff" text-anchor="middle" textLength="28.20" lengthAdjust="spacingAndGlyphs" fill-opacity="0.86" stroke-opacity="0" stroke="#ffffff" stroke-width="0.16">0.00</text>
<text x="455.32" y="193.95" font-size="14.13" fill="#0c0c0c" text-anchor="middle" textLength="28.20" lengthAdjust="spacingAndGlyphs" fill-opacity="0.8" stroke-opacity="0.8" stroke="#0c0c0c" stroke-width="0.16">1.00</text>
<text x="498.76" y="193.95" font-size="14.13" fill="#0c0c0c" text-anchor="middle" textLength="28.20" lengthAdjust="spacingAndGlyphs" fill-opacity="0.8" stroke-opacity="0.8" stroke="#0c0c0c" stroke-width="0.16">0.43</text>
<text x="542.20" y="193.95" font-size="14.13" fill="#0c0c0c" text-anchor="middle" textLength="28.20" lengthAdjust="spacingAndGlyphs" fill-opacity="0.8" stroke-opacity="0.8" stroke="#0c0c0c" stroke-width="0.16">0.57</text>
<text x="585.64" y="193.95" font-size="14.13" fill="#ffffff" text-anchor="middle" textLength="28.20" lengthAdjust="spacingAndGlyphs" fill-opacity="0.86" stroke-opacity="0" stroke="#ffffff" stroke-width="0.16">0.00</text>
<text x="629.08" y="193.95" font-size="14.13" fill="#ffffff" text-anchor="middle" textLength="28.20" lengthAdjust="spacingAndGlyphs" fill-opacity="0.86" stroke-opacity="0" stroke="#ffffff" stroke-width="0.16">0.00</text>
<text x="455.32" y="218.45" font-size="14.13" fill="#0c0c0c" text-anchor="middle" textLength="28.20" lengthAdjust="spacingAndGlyphs" fill-opacity="0.8" stroke-opacity="0.8" stroke="#0c0c0c" stroke-width="0.16">1.00</text>
<text x="498.76" y="218.45" font-size="14.13" fill="#ffffff" text-anchor="middle" textLength="28.20" lengthAdjust="spacingAndGlyphs" fill-opacity="0.86" stroke-opacity="0" stroke="#ffffff" stroke-width="0.16">0.25</text>
<text x="542.20" y="218.45" font-size="14.13" fill="#ffffff" text-anchor="middle" textLength="28.20" lengthAdjust="spacingAndGlyphs" fill-opacity="0.86" stroke-opacity="0" stroke="#ffffff" stroke-width="0.16">0.10</text>
<text x="585.64" y="218.45" font-size="14.13" fill="#ffffff" text-anchor="middle" textLength="28.20" lengthAdjust="spacingAndGlyphs" fill-opacity="0.86" stroke-opacity="0" stroke="#ffffff" stroke-width="0.16">0.11</text>
<text x="629.08" y="218.45" font-size="14.13" fill="#ffffff" text-anchor="middle" textLength="28.20" lengthAdjust="spacingAndGlyphs" fill-opacity="0.86" stroke-opacity="0" stroke="#ffffff" stroke-width="0.16">0.00</text>
<text x="455.32" y="242.95" font-size="14.13" fill="#0c0c0c" text-anchor="middle" textLength="28.20" lengthAdjust="spacingAndGlyphs" fill-opacity="0.8" stroke-opacity="0.8" stroke="#0c0c0c" stroke-width="0.16">1.00</text>
<text x="498.76" y="242.95" font-size="14.13" fill="#0c0c0c" text-anchor="middle" textLength="28.20" lengthAdjust="spacingAndGlyphs" fill-opacity="0.8" stroke-opacity="0.8" stroke="#0c0c0c" stroke-width="0.16">0.80</text>
<text x="542.20" y="242.95" font-size="14.13" fill="#0c0c0c" text-anchor="middle" textLength="28.20" lengthAdjust="spacingAndGlyphs" fill-opacity="0.8" stroke-opacity="0.8" stroke="#0c0c0c" stroke-width="0.16">0.50</text>
<text x="585.64" y="242.95" font-size="14.13" fill="#ffffff" text-anchor="middle" textLength="28.20" lengthAdjust="spacingAndGlyphs" fill-opacity="0.86" stroke-opacity="0" stroke="#ffffff" stroke-width="0.16">0.00</text>
<text x="629.08" y="242.95" font-size="14.13" fill="#ffffff" text-anchor="middle" textLength="28.20" lengthAdjust="spacingAndGlyphs" fill-opacity="0.86" stroke-opacity="0" stroke="#ffffff" stroke-width="0.16">0.00</text>
<text x="455.32" y="267.45" font-size="14.13" fill="#0c0c0c" text-anchor="middle" textLength="28.20" lengthAdjust="spacingAndGlyphs" fill-opacity="0.8" stroke-opacity="0.8" stroke="#0c0c0c" stroke-width="0.16">1.00</text>
<text x="498.76" y="267.45" font-size="14.13" fill="#0c0c0c" text-anchor="middle" textLength="28.20" lengthAdjust="spacingAndGlyphs" fill-opacity="0.8" stroke-opacity="0.8" stroke="#0c0c0c" stroke-width="0.16">0.71</text>
<text x="542.20" y="267.45" font-size="14.13" fill="#0c0c0c" text-anchor="middle" textLength="28.20" lengthAdjust="spacingAndGlyphs" fill-opacity="0.8" stroke-opacity="0.8" stroke="#0c0c0c" stroke-width="0.16">0.64</text>
<text x="585.64" y="267.45" font-size="14.13" fill="#ffffff" text-anchor="middle" textLength="28.20" lengthAdjust="spacingAndGlyphs" fill-opacity="0.86" stroke-opacity="0" stroke="#ffffff" stroke-width="0.16">0.00</text>
<text x="629.08" y="267.45" font-size="14.13" fill="#ffffff" text-anchor="middle" textLength="28.20" lengthAdjust="spacingAndGlyphs" fill-opacity="0.86" stroke-opacity="0" stroke="#ffffff" stroke-width="0.16">0.00</text>
<text x="455.32" y="291.95" font-size="14.13" fill="#0c0c0c" text-anchor="middle" textLength="28.20" lengthAdjust="spacingAndGlyphs" fill-opacity="0.8" stroke-opacity="0.8" stroke="#0c0c0c" stroke-width="0.16">1.00</text>
<text x="498.76" y="291.95" font-size="14.13" fill="#0c0c0c" text-anchor="middle" textLength="28.20" lengthAdjust="spacingAndGlyphs" fill-opacity="0.8" stroke-opacity="0.8" stroke="#0c0c0c" stroke-width="0.16">1.00</text>
<text x="542.20" y="291.95" font-size="14.13" fill="#0c0c0c" text-anchor="middle" textLength="28.20" lengthAdjust="spacingAndGlyphs" fill-opacity="0.8" stroke-opacity="0.8" stroke="#0c0c0c" stroke-width="0.16">1.00</text>
<text x="585.64" y="291.95" font-size="14.13" fill="#0c0c0c" text-anchor="middle" textLength="28.20" lengthAdjust="spacingAndGlyphs" fill-opacity="0.8" stroke-opacity="0.8" stroke="#0c0c0c" stroke-width="0.16">0.36</text>
<text x="629.08" y="291.95" font-size="14.13" fill="#ffffff" text-anchor="middle" textLength="28.20" lengthAdjust="spacingAndGlyphs" fill-opacity="0.86" stroke-opacity="0" stroke="#ffffff" stroke-width="0.16">0.29</text>
<rect x="433.6" y="31.0" width="217.19999999999993" height="269.5" fill="none" stroke="#2e2e2e" stroke-width="1.07"/>
<line x1="430.93" y1="43.25" x2="433.60" y2="43.25" stroke="#1f1f1f" stroke-width="1.07"/>
<text x="428.90" y="48.35" font-size="14.13" fill="#262626" text-anchor="end" textLength="20.62" lengthAdjust="spacingAndGlyphs"  stroke="#262626" stroke-width="0.22">0%</text>
<line x1="430.93" y1="67.75" x2="433.60" y2="67.75" stroke="#1f1f1f" stroke-width="1.07"/>
<text x="428.90" y="72.85" font-size="14.13" fill="#262626" text-anchor="end" textLength="28.89" lengthAdjust="spacingAndGlyphs"  stroke="#262626" stroke-width="0.22">10%</text>
<line x1="430.93" y1="92.25" x2="433.60" y2="92.25" stroke="#1f1f1f" stroke-width="1.07"/>
<text x="428.90" y="97.35" font-size="14.13" fill="#262626" text-anchor="end" textLength="28.89" lengthAdjust="spacingAndGlyphs"  stroke="#262626" stroke-width="0.22">20%</text>
<line x1="430.93" y1="116.75" x2="433.60" y2="116.75" stroke="#1f1f1f" stroke-width="1.07"/>
<text x="428.90" y="121.85" font-size="14.13" fill="#262626" text-anchor="end" textLength="28.89" lengthAdjust="spacingAndGlyphs"  stroke="#262626" stroke-width="0.22">30%</text>
<line x1="430.93" y1="141.25" x2="433.60" y2="141.25" stroke="#1f1f1f" stroke-width="1.07"/>
<text x="428.90" y="146.35" font-size="14.13" fill="#262626" text-anchor="end" textLength="28.89" lengthAdjust="spacingAndGlyphs"  stroke="#262626" stroke-width="0.22">40%</text>
<line x1="430.93" y1="165.75" x2="433.60" y2="165.75" stroke="#1f1f1f" stroke-width="1.07"/>
<text x="428.90" y="170.85" font-size="14.13" fill="#262626" text-anchor="end" textLength="28.89" lengthAdjust="spacingAndGlyphs"  stroke="#262626" stroke-width="0.22">50%</text>
<line x1="430.93" y1="190.25" x2="433.60" y2="190.25" stroke="#1f1f1f" stroke-width="1.07"/>
<text x="428.90" y="195.35" font-size="14.13" fill="#262626" text-anchor="end" textLength="28.89" lengthAdjust="spacingAndGlyphs"  stroke="#262626" stroke-width="0.22">60%</text>
<line x1="430.93" y1="214.75" x2="433.60" y2="214.75" stroke="#1f1f1f" stroke-width="1.07"/>
<text x="428.90" y="219.85" font-size="14.13" fill="#262626" text-anchor="end" textLength="28.89" lengthAdjust="spacingAndGlyphs"  stroke="#262626" stroke-width="0.22">70%</text>
<line x1="430.93" y1="239.25" x2="433.60" y2="239.25" stroke="#1f1f1f" stroke-width="1.07"/>
<text x="428.90" y="244.35" font-size="14.13" fill="#262626" text-anchor="end" textLength="28.89" lengthAdjust="spacingAndGlyphs"  stroke="#262626" stroke-width="0.22">80%</text>
<line x1="430.93" y1="263.75" x2="433.60" y2="263.75" stroke="#1f1f1f" stroke-width="1.07"/>
<text x="428.90" y="268.85" font-size="14.13" fill="#262626" text-anchor="end" textLength="28.89" lengthAdjust="spacingAndGlyphs"  stroke="#262626" stroke-width="0.22">90%</text>
<line x1="430.93" y1="288.25" x2="433.60" y2="288.25" stroke="#1f1f1f" stroke-width="1.07"/>
<text x="428.90" y="293.35" font-size="14.13" fill="#262626" text-anchor="end" textLength="37.16" lengthAdjust="spacingAndGlyphs"  stroke="#262626" stroke-width="0.22">100%</text>
<line x1="455.32" y1="300.50" x2="455.32" y2="303.17" stroke="#1f1f1f" stroke-width="1.07"/>
<text transform="translate(453.32,313.30) rotate(-45)" font-size="14.13" fill="#262626" stroke="#262626" stroke-width="0.22" text-anchor="end" textLength="15.23" lengthAdjust="spacingAndGlyphs">8k</text>
<line x1="498.76" y1="300.50" x2="498.76" y2="303.17" stroke="#1f1f1f" stroke-width="1.07"/>
<text transform="translate(496.76,313.30) rotate(-45)" font-size="14.13" fill="#262626" stroke="#262626" stroke-width="0.22" text-anchor="end" textLength="23.20" lengthAdjust="spacingAndGlyphs">16k</text>
<line x1="542.20" y1="300.50" x2="542.20" y2="303.17" stroke="#1f1f1f" stroke-width="1.07"/>
<text transform="translate(540.20,313.30) rotate(-45)" font-size="14.13" fill="#262626" stroke="#262626" stroke-width="0.22" text-anchor="end" textLength="23.20" lengthAdjust="spacingAndGlyphs">32k</text>
<line x1="585.64" y1="300.50" x2="585.64" y2="303.17" stroke="#1f1f1f" stroke-width="1.07"/>
<text transform="translate(583.64,313.30) rotate(-45)" font-size="14.13" fill="#262626" stroke="#262626" stroke-width="0.22" text-anchor="end" textLength="23.20" lengthAdjust="spacingAndGlyphs">64k</text>
<line x1="629.08" y1="300.50" x2="629.08" y2="303.17" stroke="#1f1f1f" stroke-width="1.07"/>
<text transform="translate(627.08,313.30) rotate(-45)" font-size="14.13" fill="#262626" stroke="#262626" stroke-width="0.22" text-anchor="end" textLength="31.17" lengthAdjust="spacingAndGlyphs">128k</text>
<text x="542.20" y="354.00" font-size="19.79" fill="#262626" text-anchor="middle" textLength="141.32" lengthAdjust="spacingAndGlyphs"  stroke="#262626" stroke-width="0.3">Context Length</text>
<text transform="translate(384.30,165.75) rotate(-90)" font-size="19.79" fill="#262626" stroke="#262626" stroke-width="0.3" text-anchor="middle" textLength="93.21" lengthAdjust="spacingAndGlyphs">Depth (%)</text>
</g>
<g shape-rendering="auto">
<rect x="755.90" y="32.10" width="43.68" height="24.70" fill="#2abb78"/>
<rect x="799.28" y="32.10" width="43.68" height="24.70" fill="#2abb78"/>
<rect x="842.66" y="32.10" width="43.68" height="24.70" fill="#2abb78"/>
<rect x="886.04" y="32.10" width="43.68" height="24.70" fill="#2abb78"/>
<rect x="929.42" y="32.10" width="43.68" height="24.70" fill="#2abb78"/>
<rect x="755.90" y="56.50" width="43.68" height="24.70" fill="#2abb78"/>
<rect x="799.28" y="56.50" width="43.68" height="24.70" fill="#2abb78"/>
<rect x="842.66" y="56.50" width="43.68" height="24.70" fill="#2abb78"/>
<rect x="886.04" y="56.50" width="43.68" height="24.70" fill="#2abb78"/>
<rect x="929.42" y="56.50" width="43.68" height="24.70" fill="#2abb78"/>
<rect x="755.90" y="80.90" width="43.68" height="24.70" fill="#2abb78"/>
<rect x="799.28" y="80.90" width="43.68" height="24.70" fill="#aec83a"/>
<rect x="842.66" y="80.90" width="43.68" height="24.70" fill="#2abb78"/>
<rect x="886.04" y="80.90" width="43.68" height="24.70" fill="#8fd14f"/>
<rect x="929.42" y="80.90" width="43.68" height="24.70" fill="#2abb78"/>
<rect x="755.90" y="105.30" width="43.68" height="24.70" fill="#97cf4a"/>
<rect x="799.28" y="105.30" width="43.68" height="24.70" fill="#2abb78"/>
<rect x="842.66" y="105.30" width="43.68" height="24.70" fill="#aec83a"/>
<rect x="886.04" y="105.30" width="43.68" height="24.70" fill="#52c468"/>
<rect x="929.42" y="105.30" width="43.68" height="24.70" fill="#5ac664"/>
<rect x="755.90" y="129.70" width="43.68" height="24.70" fill="#5ac664"/>
<rect x="799.28" y="129.70" width="43.68" height="24.70" fill="#52c468"/>
<rect x="842.66" y="129.70" width="43.68" height="24.70" fill="#5ac664"/>
<rect x="886.04" y="129.70" width="43.68" height="24.70" fill="#a2cb42"/>
<rect x="929.42" y="129.70" width="43.68" height="24.70" fill="#fc7b41"/>
<rect x="755.90" y="154.10" width="43.68" height="24.70" fill="#4ec369"/>
<rect x="799.28" y="154.10" width="43.68" height="24.70" fill="#8fd14f"/>
<rect x="842.66" y="154.10" width="43.68" height="24.70" fill="#2abb78"/>
<rect x="886.04" y="154.10" width="43.68" height="24.70" fill="#8fd14f"/>
<rect x="929.42" y="154.10" width="43.68" height="24.70" fill="#aec83a"/>
<rect x="755.90" y="178.50" width="43.68" height="24.70" fill="#2abb78"/>
<rect x="799.28" y="178.50" width="43.68" height="24.70" fill="#63c761"/>
<rect x="842.66" y="178.50" width="43.68" height="24.70" fill="#2abb78"/>
<rect x="886.04" y="178.50" width="43.68" height="24.70" fill="#4ec369"/>
<rect x="929.42" y="178.50" width="43.68" height="24.70" fill="#fb833c"/>
<rect x="755.90" y="202.90" width="43.68" height="24.70" fill="#2abb78"/>
<rect x="799.28" y="202.90" width="43.68" height="24.70" fill="#f0b40c"/>
<rect x="842.66" y="202.90" width="43.68" height="24.70" fill="#2abb78"/>
<rect x="886.04" y="202.90" width="43.68" height="24.70" fill="#2abb78"/>
<rect x="929.42" y="202.90" width="43.68" height="24.70" fill="#fc7b41"/>
<rect x="755.90" y="227.30" width="43.68" height="24.70" fill="#2abb78"/>
<rect x="799.28" y="227.30" width="43.68" height="24.70" fill="#2abb78"/>
<rect x="842.66" y="227.30" width="43.68" height="24.70" fill="#2abb78"/>
<rect x="886.04" y="227.30" width="43.68" height="24.70" fill="#2abb78"/>
<rect x="929.42" y="227.30" width="43.68" height="24.70" fill="#8fd14f"/>
<rect x="755.90" y="251.70" width="43.68" height="24.70" fill="#2abb78"/>
<rect x="799.28" y="251.70" width="43.68" height="24.70" fill="#46c16d"/>
<rect x="842.66" y="251.70" width="43.68" height="24.70" fill="#2abb78"/>
<rect x="886.04" y="251.70" width="43.68" height="24.70" fill="#2abb78"/>
<rect x="929.42" y="251.70" width="43.68" height="24.70" fill="#2abb78"/>
<rect x="755.90" y="276.10" width="43.68" height="24.70" fill="#2abb78"/>
<rect x="799.28" y="276.10" width="43.68" height="24.70" fill="#2abb78"/>
<rect x="842.66" y="276.10" width="43.68" height="24.70" fill="#2abb78"/>
<rect x="886.04" y="276.10" width="43.68" height="24.70" fill="#2abb78"/>
<rect x="929.42" y="276.10" width="43.68" height="24.70" fill="#2abb78"/>
<line x1="799.28" y1="32.1" x2="799.28" y2="300.5" stroke="#fff" stroke-opacity="0.9" stroke-width="1.0"/>
<line x1="842.66" y1="32.1" x2="842.66" y2="300.5" stroke="#fff" stroke-opacity="0.9" stroke-width="1.0"/>
<line x1="886.04" y1="32.1" x2="886.04" y2="300.5" stroke="#fff" stroke-opacity="0.9" stroke-width="1.0"/>
<line x1="929.42" y1="32.1" x2="929.42" y2="300.5" stroke="#fff" stroke-opacity="0.9" stroke-width="1.0"/>
<line x1="755.9" y1="56.50" x2="972.8" y2="56.50" stroke="#fff" stroke-opacity="0.9" stroke-width="1.0"/>
<line x1="755.9" y1="80.90" x2="972.8" y2="80.90" stroke="#fff" stroke-opacity="0.9" stroke-width="1.0"/>
<line x1="755.9" y1="105.30" x2="972.8" y2="105.30" stroke="#fff" stroke-opacity="0.9" stroke-width="1.0"/>
<line x1="755.9" y1="129.70" x2="972.8" y2="129.70" stroke="#fff" stroke-opacity="0.9" stroke-width="1.0"/>
<line x1="755.9" y1="154.10" x2="972.8" y2="154.10" stroke="#fff" stroke-opacity="0.9" stroke-width="1.0"/>
<line x1="755.9" y1="178.50" x2="972.8" y2="178.50" stroke="#fff" stroke-opacity="0.9" stroke-width="1.0"/>
<line x1="755.9" y1="202.90" x2="972.8" y2="202.90" stroke="#fff" stroke-opacity="0.9" stroke-width="1.0"/>
<line x1="755.9" y1="227.30" x2="972.8" y2="227.30" stroke="#fff" stroke-opacity="0.9" stroke-width="1.0"/>
<line x1="755.9" y1="251.70" x2="972.8" y2="251.70" stroke="#fff" stroke-opacity="0.9" stroke-width="1.0"/>
<line x1="755.9" y1="276.10" x2="972.8" y2="276.10" stroke="#fff" stroke-opacity="0.9" stroke-width="1.0"/>
<text x="777.59" y="48.00" font-size="14.13" fill="#0c0c0c" text-anchor="middle" textLength="28.20" lengthAdjust="spacingAndGlyphs" fill-opacity="0.8" stroke-opacity="0.8" stroke="#0c0c0c" stroke-width="0.16">1.00</text>
<text x="820.97" y="48.00" font-size="14.13" fill="#0c0c0c" text-anchor="middle" textLength="28.20" lengthAdjust="spacingAndGlyphs" fill-opacity="0.8" stroke-opacity="0.8" stroke="#0c0c0c" stroke-width="0.16">1.00</text>
<text x="864.35" y="48.00" font-size="14.13" fill="#0c0c0c" text-anchor="middle" textLength="28.20" lengthAdjust="spacingAndGlyphs" fill-opacity="0.8" stroke-opacity="0.8" stroke="#0c0c0c" stroke-width="0.16">1.00</text>
<text x="907.73" y="48.00" font-size="14.13" fill="#0c0c0c" text-anchor="middle" textLength="28.20" lengthAdjust="spacingAndGlyphs" fill-opacity="0.8" stroke-opacity="0.8" stroke="#0c0c0c" stroke-width="0.16">1.00</text>
<text x="951.11" y="48.00" font-size="14.13" fill="#0c0c0c" text-anchor="middle" textLength="28.20" lengthAdjust="spacingAndGlyphs" fill-opacity="0.8" stroke-opacity="0.8" stroke="#0c0c0c" stroke-width="0.16">1.00</text>
<text x="777.59" y="72.40" font-size="14.13" fill="#0c0c0c" text-anchor="middle" textLength="28.20" lengthAdjust="spacingAndGlyphs" fill-opacity="0.8" stroke-opacity="0.8" stroke="#0c0c0c" stroke-width="0.16">1.00</text>
<text x="820.97" y="72.40" font-size="14.13" fill="#0c0c0c" text-anchor="middle" textLength="28.20" lengthAdjust="spacingAndGlyphs" fill-opacity="0.8" stroke-opacity="0.8" stroke="#0c0c0c" stroke-width="0.16">1.00</text>
<text x="864.35" y="72.40" font-size="14.13" fill="#0c0c0c" text-anchor="middle" textLength="28.20" lengthAdjust="spacingAndGlyphs" fill-opacity="0.8" stroke-opacity="0.8" stroke="#0c0c0c" stroke-width="0.16">1.00</text>
<text x="907.73" y="72.40" font-size="14.13" fill="#0c0c0c" text-anchor="middle" textLength="28.20" lengthAdjust="spacingAndGlyphs" fill-opacity="0.8" stroke-opacity="0.8" stroke="#0c0c0c" stroke-width="0.16">1.00</text>
<text x="951.11" y="72.40" font-size="14.13" fill="#0c0c0c" text-anchor="middle" textLength="28.20" lengthAdjust="spacingAndGlyphs" fill-opacity="0.8" stroke-opacity="0.8" stroke="#0c0c0c" stroke-width="0.16">1.00</text>
<text x="777.59" y="96.80" font-size="14.13" fill="#0c0c0c" text-anchor="middle" textLength="28.20" lengthAdjust="spacingAndGlyphs" fill-opacity="0.8" stroke-opacity="0.8" stroke="#0c0c0c" stroke-width="0.16">1.00</text>
<text x="820.97" y="96.80" font-size="14.13" fill="#0c0c0c" text-anchor="middle" textLength="28.20" lengthAdjust="spacingAndGlyphs" fill-opacity="0.8" stroke-opacity="0.8" stroke="#0c0c0c" stroke-width="0.16">0.67</text>
<text x="864.35" y="96.80" font-size="14.13" fill="#0c0c0c" text-anchor="middle" textLength="28.20" lengthAdjust="spacingAndGlyphs" fill-opacity="0.8" stroke-opacity="0.8" stroke="#0c0c0c" stroke-width="0.16">1.00</text>
<text x="907.73" y="96.80" font-size="14.13" fill="#0c0c0c" text-anchor="middle" textLength="28.20" lengthAdjust="spacingAndGlyphs" fill-opacity="0.8" stroke-opacity="0.8" stroke="#0c0c0c" stroke-width="0.16">0.75</text>
<text x="951.11" y="96.80" font-size="14.13" fill="#0c0c0c" text-anchor="middle" textLength="28.20" lengthAdjust="spacingAndGlyphs" fill-opacity="0.8" stroke-opacity="0.8" stroke="#0c0c0c" stroke-width="0.16">1.00</text>
<text x="777.59" y="121.20" font-size="14.13" fill="#0c0c0c" text-anchor="middle" textLength="28.20" lengthAdjust="spacingAndGlyphs" fill-opacity="0.8" stroke-opacity="0.8" stroke="#0c0c0c" stroke-width="0.16">0.73</text>
<text x="820.97" y="121.20" font-size="14.13" fill="#0c0c0c" text-anchor="middle" textLength="28.20" lengthAdjust="spacingAndGlyphs" fill-opacity="0.8" stroke-opacity="0.8" stroke="#0c0c0c" stroke-width="0.16">1.00</text>
<text x="864.35" y="121.20" font-size="14.13" fill="#0c0c0c" text-anchor="middle" textLength="28.20" lengthAdjust="spacingAndGlyphs" fill-opacity="0.8" stroke-opacity="0.8" stroke="#0c0c0c" stroke-width="0.16">0.67</text>
<text x="907.73" y="121.20" font-size="14.13" fill="#0c0c0c" text-anchor="middle" textLength="28.20" lengthAdjust="spacingAndGlyphs" fill-opacity="0.8" stroke-opacity="0.8" stroke="#0c0c0c" stroke-width="0.16">0.90</text>
<text x="951.11" y="121.20" font-size="14.13" fill="#0c0c0c" text-anchor="middle" textLength="28.20" lengthAdjust="spacingAndGlyphs" fill-opacity="0.8" stroke-opacity="0.8" stroke="#0c0c0c" stroke-width="0.16">0.88</text>
<text x="777.59" y="145.60" font-size="14.13" fill="#0c0c0c" text-anchor="middle" textLength="28.20" lengthAdjust="spacingAndGlyphs" fill-opacity="0.8" stroke-opacity="0.8" stroke="#0c0c0c" stroke-width="0.16">0.88</text>
<text x="820.97" y="145.60" font-size="14.13" fill="#0c0c0c" text-anchor="middle" textLength="28.20" lengthAdjust="spacingAndGlyphs" fill-opacity="0.8" stroke-opacity="0.8" stroke="#0c0c0c" stroke-width="0.16">0.90</text>
<text x="864.35" y="145.60" font-size="14.13" fill="#0c0c0c" text-anchor="middle" textLength="28.20" lengthAdjust="spacingAndGlyphs" fill-opacity="0.8" stroke-opacity="0.8" stroke="#0c0c0c" stroke-width="0.16">0.88</text>
<text x="907.73" y="145.60" font-size="14.13" fill="#0c0c0c" text-anchor="middle" textLength="28.20" lengthAdjust="spacingAndGlyphs" fill-opacity="0.8" stroke-opacity="0.8" stroke="#0c0c0c" stroke-width="0.16">0.70</text>
<text x="951.11" y="145.60" font-size="14.13" fill="#ffffff" text-anchor="middle" textLength="28.20" lengthAdjust="spacingAndGlyphs" fill-opacity="0.86" stroke-opacity="0" stroke="#ffffff" stroke-width="0.16">0.20</text>
<text x="777.59" y="170.00" font-size="14.13" fill="#0c0c0c" text-anchor="middle" textLength="28.20" lengthAdjust="spacingAndGlyphs" fill-opacity="0.8" stroke-opacity="0.8" stroke="#0c0c0c" stroke-width="0.16">0.91</text>
<text x="820.97" y="170.00" font-size="14.13" fill="#0c0c0c" text-anchor="middle" textLength="28.20" lengthAdjust="spacingAndGlyphs" fill-opacity="0.8" stroke-opacity="0.8" stroke="#0c0c0c" stroke-width="0.16">0.75</text>
<text x="864.35" y="170.00" font-size="14.13" fill="#0c0c0c" text-anchor="middle" textLength="28.20" lengthAdjust="spacingAndGlyphs" fill-opacity="0.8" stroke-opacity="0.8" stroke="#0c0c0c" stroke-width="0.16">1.00</text>
<text x="907.73" y="170.00" font-size="14.13" fill="#0c0c0c" text-anchor="middle" textLength="28.20" lengthAdjust="spacingAndGlyphs" fill-opacity="0.8" stroke-opacity="0.8" stroke="#0c0c0c" stroke-width="0.16">0.75</text>
<text x="951.11" y="170.00" font-size="14.13" fill="#0c0c0c" text-anchor="middle" textLength="28.20" lengthAdjust="spacingAndGlyphs" fill-opacity="0.8" stroke-opacity="0.8" stroke="#0c0c0c" stroke-width="0.16">0.67</text>
<text x="777.59" y="194.40" font-size="14.13" fill="#0c0c0c" text-anchor="middle" textLength="28.20" lengthAdjust="spacingAndGlyphs" fill-opacity="0.8" stroke-opacity="0.8" stroke="#0c0c0c" stroke-width="0.16">1.00</text>
<text x="820.97" y="194.40" font-size="14.13" fill="#0c0c0c" text-anchor="middle" textLength="28.20" lengthAdjust="spacingAndGlyphs" fill-opacity="0.8" stroke-opacity="0.8" stroke="#0c0c0c" stroke-width="0.16">0.86</text>
<text x="864.35" y="194.40" font-size="14.13" fill="#0c0c0c" text-anchor="middle" textLength="28.20" lengthAdjust="spacingAndGlyphs" fill-opacity="0.8" stroke-opacity="0.8" stroke="#0c0c0c" stroke-width="0.16">1.00</text>
<text x="907.73" y="194.40" font-size="14.13" fill="#0c0c0c" text-anchor="middle" textLength="28.20" lengthAdjust="spacingAndGlyphs" fill-opacity="0.8" stroke-opacity="0.8" stroke="#0c0c0c" stroke-width="0.16">0.91</text>
<text x="951.11" y="194.40" font-size="14.13" fill="#ffffff" text-anchor="middle" textLength="28.20" lengthAdjust="spacingAndGlyphs" fill-opacity="0.86" stroke-opacity="0" stroke="#ffffff" stroke-width="0.16">0.23</text>
<text x="777.59" y="218.80" font-size="14.13" fill="#0c0c0c" text-anchor="middle" textLength="28.20" lengthAdjust="spacingAndGlyphs" fill-opacity="0.8" stroke-opacity="0.8" stroke="#0c0c0c" stroke-width="0.16">1.00</text>
<text x="820.97" y="218.80" font-size="14.13" fill="#0c0c0c" text-anchor="middle" textLength="28.20" lengthAdjust="spacingAndGlyphs" fill-opacity="0.8" stroke-opacity="0.8" stroke="#0c0c0c" stroke-width="0.16">0.50</text>
<text x="864.35" y="218.80" font-size="14.13" fill="#0c0c0c" text-anchor="middle" textLength="28.20" lengthAdjust="spacingAndGlyphs" fill-opacity="0.8" stroke-opacity="0.8" stroke="#0c0c0c" stroke-width="0.16">1.00</text>
<text x="907.73" y="218.80" font-size="14.13" fill="#0c0c0c" text-anchor="middle" textLength="28.20" lengthAdjust="spacingAndGlyphs" fill-opacity="0.8" stroke-opacity="0.8" stroke="#0c0c0c" stroke-width="0.16">1.00</text>
<text x="951.11" y="218.80" font-size="14.13" fill="#ffffff" text-anchor="middle" textLength="28.20" lengthAdjust="spacingAndGlyphs" fill-opacity="0.86" stroke-opacity="0" stroke="#ffffff" stroke-width="0.16">0.20</text>
<text x="777.59" y="243.20" font-size="14.13" fill="#0c0c0c" text-anchor="middle" textLength="28.20" lengthAdjust="spacingAndGlyphs" fill-opacity="0.8" stroke-opacity="0.8" stroke="#0c0c0c" stroke-width="0.16">1.00</text>
<text x="820.97" y="243.20" font-size="14.13" fill="#0c0c0c" text-anchor="middle" textLength="28.20" lengthAdjust="spacingAndGlyphs" fill-opacity="0.8" stroke-opacity="0.8" stroke="#0c0c0c" stroke-width="0.16">1.00</text>
<text x="864.35" y="243.20" font-size="14.13" fill="#0c0c0c" text-anchor="middle" textLength="28.20" lengthAdjust="spacingAndGlyphs" fill-opacity="0.8" stroke-opacity="0.8" stroke="#0c0c0c" stroke-width="0.16">1.00</text>
<text x="907.73" y="243.20" font-size="14.13" fill="#0c0c0c" text-anchor="middle" textLength="28.20" lengthAdjust="spacingAndGlyphs" fill-opacity="0.8" stroke-opacity="0.8" stroke="#0c0c0c" stroke-width="0.16">1.00</text>
<text x="951.11" y="243.20" font-size="14.13" fill="#0c0c0c" text-anchor="middle" textLength="28.20" lengthAdjust="spacingAndGlyphs" fill-opacity="0.8" stroke-opacity="0.8" stroke="#0c0c0c" stroke-width="0.16">0.75</text>
<text x="777.59" y="267.60" font-size="14.13" fill="#0c0c0c" text-anchor="middle" textLength="28.20" lengthAdjust="spacingAndGlyphs" fill-opacity="0.8" stroke-opacity="0.8" stroke="#0c0c0c" stroke-width="0.16">1.00</text>
<text x="820.97" y="267.60" font-size="14.13" fill="#0c0c0c" text-anchor="middle" textLength="28.20" lengthAdjust="spacingAndGlyphs" fill-opacity="0.8" stroke-opacity="0.8" stroke="#0c0c0c" stroke-width="0.16">0.93</text>
<text x="864.35" y="267.60" font-size="14.13" fill="#0c0c0c" text-anchor="middle" textLength="28.20" lengthAdjust="spacingAndGlyphs" fill-opacity="0.8" stroke-opacity="0.8" stroke="#0c0c0c" stroke-width="0.16">1.00</text>
<text x="907.73" y="267.60" font-size="14.13" fill="#0c0c0c" text-anchor="middle" textLength="28.20" lengthAdjust="spacingAndGlyphs" fill-opacity="0.8" stroke-opacity="0.8" stroke="#0c0c0c" stroke-width="0.16">1.00</text>
<text x="951.11" y="267.60" font-size="14.13" fill="#0c0c0c" text-anchor="middle" textLength="28.20" lengthAdjust="spacingAndGlyphs" fill-opacity="0.8" stroke-opacity="0.8" stroke="#0c0c0c" stroke-width="0.16">1.00</text>
<text x="777.59" y="292.00" font-size="14.13" fill="#0c0c0c" text-anchor="middle" textLength="28.20" lengthAdjust="spacingAndGlyphs" fill-opacity="0.8" stroke-opacity="0.8" stroke="#0c0c0c" stroke-width="0.16">1.00</text>
<text x="820.97" y="292.00" font-size="14.13" fill="#0c0c0c" text-anchor="middle" textLength="28.20" lengthAdjust="spacingAndGlyphs" fill-opacity="0.8" stroke-opacity="0.8" stroke="#0c0c0c" stroke-width="0.16">1.00</text>
<text x="864.35" y="292.00" font-size="14.13" fill="#0c0c0c" text-anchor="middle" textLength="28.20" lengthAdjust="spacingAndGlyphs" fill-opacity="0.8" stroke-opacity="0.8" stroke="#0c0c0c" stroke-width="0.16">1.00</text>
<text x="907.73" y="292.00" font-size="14.13" fill="#0c0c0c" text-anchor="middle" textLength="28.20" lengthAdjust="spacingAndGlyphs" fill-opacity="0.8" stroke-opacity="0.8" stroke="#0c0c0c" stroke-width="0.16">1.00</text>
<text x="951.11" y="292.00" font-size="14.13" fill="#0c0c0c" text-anchor="middle" textLength="28.20" lengthAdjust="spacingAndGlyphs" fill-opacity="0.8" stroke-opacity="0.8" stroke="#0c0c0c" stroke-width="0.16">1.00</text>
<rect x="755.9" y="32.1" width="216.89999999999998" height="268.4" fill="none" stroke="#2e2e2e" stroke-width="1.07"/>
<line x1="753.23" y1="44.30" x2="755.90" y2="44.30" stroke="#1f1f1f" stroke-width="1.07"/>
<text x="751.20" y="49.40" font-size="14.13" fill="#262626" text-anchor="end" textLength="20.62" lengthAdjust="spacingAndGlyphs"  stroke="#262626" stroke-width="0.22">0%</text>
<line x1="753.23" y1="68.70" x2="755.90" y2="68.70" stroke="#1f1f1f" stroke-width="1.07"/>
<text x="751.20" y="73.80" font-size="14.13" fill="#262626" text-anchor="end" textLength="28.89" lengthAdjust="spacingAndGlyphs"  stroke="#262626" stroke-width="0.22">10%</text>
<line x1="753.23" y1="93.10" x2="755.90" y2="93.10" stroke="#1f1f1f" stroke-width="1.07"/>
<text x="751.20" y="98.20" font-size="14.13" fill="#262626" text-anchor="end" textLength="28.89" lengthAdjust="spacingAndGlyphs"  stroke="#262626" stroke-width="0.22">20%</text>
<line x1="753.23" y1="117.50" x2="755.90" y2="117.50" stroke="#1f1f1f" stroke-width="1.07"/>
<text x="751.20" y="122.60" font-size="14.13" fill="#262626" text-anchor="end" textLength="28.89" lengthAdjust="spacingAndGlyphs"  stroke="#262626" stroke-width="0.22">30%</text>
<line x1="753.23" y1="141.90" x2="755.90" y2="141.90" stroke="#1f1f1f" stroke-width="1.07"/>
<text x="751.20" y="147.00" font-size="14.13" fill="#262626" text-anchor="end" textLength="28.89" lengthAdjust="spacingAndGlyphs"  stroke="#262626" stroke-width="0.22">40%</text>
<line x1="753.23" y1="166.30" x2="755.90" y2="166.30" stroke="#1f1f1f" stroke-width="1.07"/>
<text x="751.20" y="171.40" font-size="14.13" fill="#262626" text-anchor="end" textLength="28.89" lengthAdjust="spacingAndGlyphs"  stroke="#262626" stroke-width="0.22">50%</text>
<line x1="753.23" y1="190.70" x2="755.90" y2="190.70" stroke="#1f1f1f" stroke-width="1.07"/>
<text x="751.20" y="195.80" font-size="14.13" fill="#262626" text-anchor="end" textLength="28.89" lengthAdjust="spacingAndGlyphs"  stroke="#262626" stroke-width="0.22">60%</text>
<line x1="753.23" y1="215.10" x2="755.90" y2="215.10" stroke="#1f1f1f" stroke-width="1.07"/>
<text x="751.20" y="220.20" font-size="14.13" fill="#262626" text-anchor="end" textLength="28.89" lengthAdjust="spacingAndGlyphs"  stroke="#262626" stroke-width="0.22">70%</text>
<line x1="753.23" y1="239.50" x2="755.90" y2="239.50" stroke="#1f1f1f" stroke-width="1.07"/>
<text x="751.20" y="244.60" font-size="14.13" fill="#262626" text-anchor="end" textLength="28.89" lengthAdjust="spacingAndGlyphs"  stroke="#262626" stroke-width="0.22">80%</text>
<line x1="753.23" y1="263.90" x2="755.90" y2="263.90" stroke="#1f1f1f" stroke-width="1.07"/>
<text x="751.20" y="269.00" font-size="14.13" fill="#262626" text-anchor="end" textLength="28.89" lengthAdjust="spacingAndGlyphs"  stroke="#262626" stroke-width="0.22">90%</text>
<line x1="753.23" y1="288.30" x2="755.90" y2="288.30" stroke="#1f1f1f" stroke-width="1.07"/>
<text x="751.20" y="293.40" font-size="14.13" fill="#262626" text-anchor="end" textLength="37.16" lengthAdjust="spacingAndGlyphs"  stroke="#262626" stroke-width="0.22">100%</text>
<line x1="777.59" y1="300.50" x2="777.59" y2="303.17" stroke="#1f1f1f" stroke-width="1.07"/>
<text transform="translate(775.59,313.30) rotate(-45)" font-size="14.13" fill="#262626" stroke="#262626" stroke-width="0.22" text-anchor="end" textLength="15.23" lengthAdjust="spacingAndGlyphs">8k</text>
<line x1="820.97" y1="300.50" x2="820.97" y2="303.17" stroke="#1f1f1f" stroke-width="1.07"/>
<text transform="translate(818.97,313.30) rotate(-45)" font-size="14.13" fill="#262626" stroke="#262626" stroke-width="0.22" text-anchor="end" textLength="23.20" lengthAdjust="spacingAndGlyphs">16k</text>
<line x1="864.35" y1="300.50" x2="864.35" y2="303.17" stroke="#1f1f1f" stroke-width="1.07"/>
<text transform="translate(862.35,313.30) rotate(-45)" font-size="14.13" fill="#262626" stroke="#262626" stroke-width="0.22" text-anchor="end" textLength="23.20" lengthAdjust="spacingAndGlyphs">32k</text>
<line x1="907.73" y1="300.50" x2="907.73" y2="303.17" stroke="#1f1f1f" stroke-width="1.07"/>
<text transform="translate(905.73,313.30) rotate(-45)" font-size="14.13" fill="#262626" stroke="#262626" stroke-width="0.22" text-anchor="end" textLength="23.20" lengthAdjust="spacingAndGlyphs">64k</text>
<line x1="951.11" y1="300.50" x2="951.11" y2="303.17" stroke="#1f1f1f" stroke-width="1.07"/>
<text transform="translate(949.11,313.30) rotate(-45)" font-size="14.13" fill="#262626" stroke="#262626" stroke-width="0.22" text-anchor="end" textLength="31.17" lengthAdjust="spacingAndGlyphs">128k</text>
<text x="864.35" y="354.00" font-size="19.79" fill="#262626" text-anchor="middle" textLength="141.32" lengthAdjust="spacingAndGlyphs"  stroke="#262626" stroke-width="0.3">Context Length</text>
<text transform="translate(706.50,166.30) rotate(-90)" font-size="19.79" fill="#262626" stroke="#262626" stroke-width="0.3" text-anchor="middle" textLength="93.21" lengthAdjust="spacingAndGlyphs">Depth (%)</text>
</g>
<rect x="986.3" y="31.7" width="13.400000000000091" height="268.8" fill="url(#cb)" stroke="#1f1f1f" stroke-width="1.07"/>
<line x1="999.70" y1="300.50" x2="1002.37" y2="300.50" stroke="#1f1f1f" stroke-width="1.07"/>
<text x="1004.70" y="305.60" font-size="14.13" fill="#262626" text-anchor="start" textLength="20.56" lengthAdjust="spacingAndGlyphs"  stroke="#262626" stroke-width="0.22">0.0</text>
<line x1="999.70" y1="246.74" x2="1002.37" y2="246.74" stroke="#1f1f1f" stroke-width="1.07"/>
<text x="1004.70" y="251.84" font-size="14.13" fill="#262626" text-anchor="start" textLength="20.56" lengthAdjust="spacingAndGlyphs"  stroke="#262626" stroke-width="0.22">0.2</text>
<line x1="999.70" y1="192.98" x2="1002.37" y2="192.98" stroke="#1f1f1f" stroke-width="1.07"/>
<text x="1004.70" y="198.08" font-size="14.13" fill="#262626" text-anchor="start" textLength="20.56" lengthAdjust="spacingAndGlyphs"  stroke="#262626" stroke-width="0.22">0.4</text>
<line x1="999.70" y1="139.22" x2="1002.37" y2="139.22" stroke="#1f1f1f" stroke-width="1.07"/>
<text x="1004.70" y="144.32" font-size="14.13" fill="#262626" text-anchor="start" textLength="20.56" lengthAdjust="spacingAndGlyphs"  stroke="#262626" stroke-width="0.22">0.6</text>
<line x1="999.70" y1="85.46" x2="1002.37" y2="85.46" stroke="#1f1f1f" stroke-width="1.07"/>
<text x="1004.70" y="90.56" font-size="14.13" fill="#262626" text-anchor="start" textLength="20.56" lengthAdjust="spacingAndGlyphs"  stroke="#262626" stroke-width="0.22">0.8</text>
<line x1="999.70" y1="31.70" x2="1002.37" y2="31.70" stroke="#1f1f1f" stroke-width="1.07"/>
<text x="1004.70" y="36.80" font-size="14.13" fill="#262626" text-anchor="start" textLength="20.56" lengthAdjust="spacingAndGlyphs"  stroke="#262626" stroke-width="0.22">1.0</text>
<text transform="translate(1042.0,166.10) rotate(-90)" font-size="19.79" fill="#262626" stroke="#262626" stroke-width="0.3" text-anchor="middle" textLength="83.53" lengthAdjust="spacingAndGlyphs">Accuracy</text>
<text x="44.50" y="447.90" font-family="Liberation Serif, serif" font-size="25.4" fill="#161616" stroke="#161616" stroke-width="0.22" textLength="70.29" lengthAdjust="spacingAndGlyphs">Figure</text>
<text x="124.15" y="447.90" font-family="Liberation Serif, serif" font-size="25.4" fill="#161616" stroke="#161616" stroke-width="0.22" textLength="19.37" lengthAdjust="spacingAndGlyphs">3:</text>
<text x="155.12" y="447.90" font-family="Liberation Serif, serif" font-size="25.4" fill="#161616" stroke="#161616" stroke-width="0.22" textLength="233.33" lengthAdjust="spacingAndGlyphs">Needle-in-a-Haystack</text>
<text x="395.81" y="447.90" font-family="Liberation Serif, serif" font-size="25.4" fill="#161616" stroke="#161616" stroke-width="0.22" textLength="89.37" lengthAdjust="spacingAndGlyphs">retrieval</text>
<text x="494.53" y="447.90" font-family="Liberation Serif, serif" font-size="25.4" fill="#161616" stroke="#161616" stroke-width="0.22" textLength="94.82" lengthAdjust="spacingAndGlyphs">accuracy</text>
<text x="598.72" y="447.90" font-family="Liberation Serif, serif" font-size="25.4" fill="#161616" stroke="#161616" stroke-width="0.22" textLength="103.88" lengthAdjust="spacingAndGlyphs">heatmaps</text>
<text x="711.96" y="447.90" font-family="Liberation Serif, serif" font-size="25.4" fill="#161616" stroke="#161616" stroke-width="0.22" textLength="29.83" lengthAdjust="spacingAndGlyphs">for</text>
<text x="751.15" y="447.90" font-family="Liberation Serif, serif" font-size="25.4" fill="#161616" stroke="#161616" stroke-width="0.22" textLength="162.87" lengthAdjust="spacingAndGlyphs">DeepSeek-V3.2</text>
<text x="923.39" y="447.90" font-family="Liberation Serif, serif" font-size="25.4" fill="#161616" stroke="#161616" stroke-width="0.22" textLength="62.35" lengthAdjust="spacingAndGlyphs">under</text>
<text x="995.10" y="447.90" font-family="Liberation Serif, serif" font-size="25.4" fill="#161616" stroke="#161616" stroke-width="0.22" textLength="55.40" lengthAdjust="spacingAndGlyphs">three</text>
<text x="44.50" y="475.50" font-family="Liberation Serif, serif" font-size="25.4" fill="#161616" stroke="#161616" stroke-width="0.22" textLength="92.03" lengthAdjust="spacingAndGlyphs">indexing</text>
<text x="146.84" y="475.50" font-family="Liberation Serif, serif" font-size="25.4" fill="#161616" stroke="#161616" stroke-width="0.22" textLength="109.61" lengthAdjust="spacingAndGlyphs">strategies.</text>
<text x="273.55" y="475.50" font-family="Liberation Serif, serif" font-size="25.4" fill="#161616" stroke="#161616" stroke-width="0.22" textLength="42.88" lengthAdjust="spacingAndGlyphs">The</text>
<text x="326.74" y="475.50" font-family="Liberation Serif, serif" font-size="25.4" font-style="italic" fill="#161616" stroke="#161616" stroke-width="0.22" textLength="14.23" lengthAdjust="spacingAndGlyphs">x</text>
<text x="340.97" y="475.50" font-family="Liberation Serif, serif" font-size="25.4" fill="#161616" stroke="#161616" stroke-width="0.22" textLength="50.62" lengthAdjust="spacingAndGlyphs">-axis</text>
<text x="401.91" y="475.50" font-family="Liberation Serif, serif" font-size="25.4" fill="#161616" stroke="#161616" stroke-width="0.22" textLength="81.75" lengthAdjust="spacingAndGlyphs">denotes</text>
<text x="493.96" y="475.50" font-family="Liberation Serif, serif" font-size="25.4" fill="#161616" stroke="#161616" stroke-width="0.22" textLength="34.59" lengthAdjust="spacingAndGlyphs">the</text>
<text x="538.86" y="475.50" font-family="Liberation Serif, serif" font-size="25.4" fill="#161616" stroke="#161616" stroke-width="0.22" textLength="80.23" lengthAdjust="spacingAndGlyphs">context</text>
<text x="629.40" y="475.50" font-family="Liberation Serif, serif" font-size="25.4" fill="#161616" stroke="#161616" stroke-width="0.22" textLength="67.80" lengthAdjust="spacingAndGlyphs">length</text>
<text x="707.52" y="475.50" font-family="Liberation Serif, serif" font-size="25.4" fill="#161616" stroke="#161616" stroke-width="0.22" textLength="130.49" lengthAdjust="spacingAndGlyphs">(8K–128K),</text>
<text x="848.82" y="475.50" font-family="Liberation Serif, serif" font-size="25.4" fill="#161616" stroke="#161616" stroke-width="0.22" textLength="40.14" lengthAdjust="spacingAndGlyphs">and</text>
<text x="899.27" y="475.50" font-family="Liberation Serif, serif" font-size="25.4" fill="#161616" stroke="#161616" stroke-width="0.22" textLength="34.59" lengthAdjust="spacingAndGlyphs">the</text>
<text x="944.17" y="475.50" font-family="Liberation Serif, serif" font-size="25.4" font-style="italic" fill="#161616" stroke="#161616" stroke-width="0.22" textLength="12.21" lengthAdjust="spacingAndGlyphs">y</text>
<text x="956.38" y="475.50" font-family="Liberation Serif, serif" font-size="25.4" fill="#161616" stroke="#161616" stroke-width="0.22" textLength="50.62" lengthAdjust="spacingAndGlyphs">-axis</text>
<text x="1017.31" y="475.50" font-family="Liberation Serif, serif" font-size="25.4" fill="#161616" stroke="#161616" stroke-width="0.22" textLength="33.19" lengthAdjust="spacingAndGlyphs">de-</text>
<text x="44.50" y="502.70" font-family="Liberation Serif, serif" font-size="25.4" fill="#161616" stroke="#161616" stroke-width="0.22" textLength="56.85" lengthAdjust="spacingAndGlyphs">notes</text>
<text x="109.05" y="502.70" font-family="Liberation Serif, serif" font-size="25.4" fill="#161616" stroke="#161616" stroke-width="0.22" textLength="34.59" lengthAdjust="spacingAndGlyphs">the</text>
<text x="151.34" y="502.70" font-family="Liberation Serif, serif" font-size="25.4" fill="#161616" stroke="#161616" stroke-width="0.22" textLength="67.78" lengthAdjust="spacingAndGlyphs">needle</text>
<text x="226.81" y="502.70" font-family="Liberation Serif, serif" font-size="25.4" fill="#161616" stroke="#161616" stroke-width="0.22" textLength="62.27" lengthAdjust="spacingAndGlyphs">depth</text>
<text x="296.79" y="502.70" font-family="Liberation Serif, serif" font-size="25.4" fill="#161616" stroke="#161616" stroke-width="0.22" textLength="130.03" lengthAdjust="spacingAndGlyphs">(0%–100%).</text>
<text x="437.69" y="502.70" font-family="Liberation Serif, serif" font-size="25.4" fill="#161616" stroke="#161616" stroke-width="0.22" textLength="74.85" lengthAdjust="spacingAndGlyphs">Shades</text>
<text x="520.24" y="502.70" font-family="Liberation Serif, serif" font-size="25.4" fill="#161616" stroke="#161616" stroke-width="0.22" textLength="61.05" lengthAdjust="spacingAndGlyphs">closer</text>
<text x="588.99" y="502.70" font-family="Liberation Serif, serif" font-size="25.4" fill="#161616" stroke="#161616" stroke-width="0.22" textLength="22.14" lengthAdjust="spacingAndGlyphs">to</text>
<text x="618.83" y="502.70" font-family="Liberation Serif, serif" font-size="25.4" fill="#161616" stroke="#161616" stroke-width="0.22" textLength="58.17" lengthAdjust="spacingAndGlyphs">green</text>
<text x="684.70" y="502.70" font-family="Liberation Serif, serif" font-size="25.4" fill="#161616" stroke="#161616" stroke-width="0.22" textLength="85.78" lengthAdjust="spacingAndGlyphs">indicate</text>
<text x="778.18" y="502.70" font-family="Liberation Serif, serif" font-size="25.4" fill="#161616" stroke="#161616" stroke-width="0.22" textLength="67.88" lengthAdjust="spacingAndGlyphs">higher</text>
<text x="853.76" y="502.70" font-family="Liberation Serif, serif" font-size="25.4" fill="#161616" stroke="#161616" stroke-width="0.22" textLength="89.37" lengthAdjust="spacingAndGlyphs">retrieval</text>
<text x="950.83" y="502.70" font-family="Liberation Serif, serif" font-size="25.4" fill="#161616" stroke="#161616" stroke-width="0.22" textLength="99.67" lengthAdjust="spacingAndGlyphs">accuracy.</text>
<text x="96.20" y="395.40" font-family="Liberation Serif, serif" font-size="23.2" fill="#161616" stroke="#161616" stroke-width="0.22" textLength="26.89" lengthAdjust="spacingAndGlyphs">(a)</text>
<text x="131.90" y="395.40" font-family="Liberation Serif, serif" font-size="23.2" fill="#161616" stroke="#161616" stroke-width="0.22" textLength="48.39" lengthAdjust="spacingAndGlyphs">DSA</text>
<text x="190.50" y="395.40" font-family="Liberation Serif, serif" font-size="23.2" fill="#161616" stroke="#161616" stroke-width="0.22" textLength="91.94" lengthAdjust="spacingAndGlyphs">(original)</text>
<text x="427.10" y="395.40" font-family="Liberation Serif, serif" font-size="23.2" fill="#161616" stroke="#161616" stroke-width="0.22" textLength="28.19" lengthAdjust="spacingAndGlyphs">(b)</text>
<text x="464.40" y="395.40" font-family="Liberation Serif, serif" font-size="23.2" fill="#161616" stroke="#161616" stroke-width="0.22" textLength="131.72" lengthAdjust="spacingAndGlyphs">Block-Sparse</text>
<text x="788.10" y="395.40" font-family="Liberation Serif, serif" font-size="23.2" fill="#161616" stroke="#161616" stroke-width="0.22" textLength="25.60" lengthAdjust="spacingAndGlyphs">(c)</text>
<text x="822.90" y="395.40" font-family="Liberation Serif, serif" font-size="23.2" fill="#161616" stroke="#161616" stroke-width="0.22" textLength="56.51" lengthAdjust="spacingAndGlyphs">HISA</text>
<text x="888.20" y="395.40" font-family="Liberation Serif, serif" font-size="23.2" fill="#161616" stroke="#161616" stroke-width="0.22" textLength="58.24" lengthAdjust="spacingAndGlyphs">(ours)</text>
</svg>
</body></html>
